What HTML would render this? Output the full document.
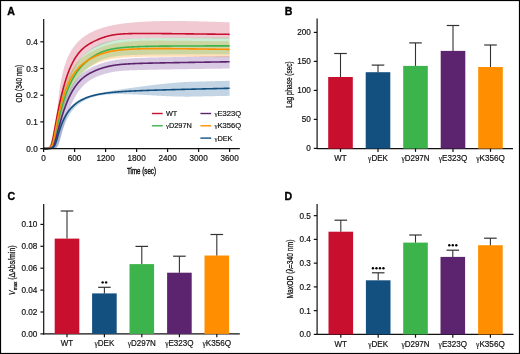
<!DOCTYPE html>
<html><head><meta charset="utf-8"><style>
html,body{margin:0;padding:0;background:#fff;}
svg{display:block;font-family:"Liberation Sans", sans-serif;will-change:transform;}
</style></head><body>
<svg width="520" height="354" viewBox="0 0 520 354">
<rect x="0" y="0" width="520" height="354" fill="#fff"/>
<polygon points="43.60,148.44 43.86,148.42 44.12,148.40 44.38,148.37 44.63,148.34 44.89,148.32 45.15,148.28 45.41,148.24 45.67,148.20 45.93,148.16 46.18,148.11 46.44,148.05 46.70,147.98 46.96,147.91 47.22,147.83 47.48,147.74 47.73,147.64 47.99,147.53 48.25,147.41 48.51,147.27 48.77,147.12 49.02,146.95 49.28,146.75 49.54,146.54 49.80,146.30 50.06,146.04 50.32,145.74 50.58,145.41 50.83,145.05 51.09,144.64 51.35,144.19 51.61,143.69 51.87,143.13 52.12,142.51 52.38,141.82 52.64,141.06 52.90,140.22 53.16,139.29 53.42,138.27 53.68,137.14 53.93,135.91 54.19,134.56 54.45,133.09 54.71,131.49 54.97,129.76 55.23,127.91 55.48,125.94 55.74,123.84 56.00,121.64 56.26,119.34 56.52,116.97 56.77,114.54 57.03,112.08 57.29,109.61 57.55,107.15 57.81,104.72 58.07,102.34 58.33,100.03 58.58,97.80 58.84,95.64 59.10,93.58 59.36,91.60 59.62,89.71 59.88,87.91 60.13,86.19 60.39,84.55 60.65,82.99 60.91,81.50 61.17,80.08 61.42,78.72 61.68,77.42 61.94,76.18 62.20,74.98 62.46,73.84 62.72,72.74 62.98,71.68 63.23,70.66 63.49,69.68 63.75,68.74 64.01,67.83 64.27,66.95 64.53,66.10 64.78,65.27 65.04,64.47 65.30,63.70 65.56,62.95 65.82,62.22 66.08,61.52 66.33,60.83 66.59,60.16 66.85,59.51 67.11,58.88 67.37,58.27 67.62,57.67 67.88,57.08 68.14,56.52 68.40,55.96 68.66,55.42 68.92,54.89 69.17,54.37 69.43,53.87 69.69,53.38 69.95,52.89 70.21,52.42 70.47,51.96 70.72,51.51 70.98,51.07 71.24,50.64 71.50,50.21 71.76,49.80 72.02,49.39 72.28,49.00 72.53,48.61 72.79,48.22 73.05,47.85 73.31,47.48 73.57,47.12 73.83,46.77 74.08,46.42 74.34,46.08 74.60,45.74 74.86,45.41 75.38,44.77 75.89,44.15 76.41,43.55 76.93,42.97 77.45,42.42 77.96,41.87 78.48,41.35 79.00,40.84 79.52,40.35 80.03,39.88 80.55,39.41 81.07,38.96 81.59,38.53 82.10,38.11 82.62,37.70 83.14,37.30 83.66,36.91 84.17,36.53 84.69,36.17 85.21,35.81 85.73,35.46 86.24,35.12 86.76,34.79 87.28,34.47 87.80,34.16 88.31,33.86 88.83,33.56 89.35,33.27 89.87,32.99 90.38,32.71 90.90,32.44 91.42,32.18 91.94,31.93 92.45,31.68 92.97,31.43 93.49,31.20 94.01,30.96 94.52,30.74 95.04,30.52 95.56,30.30 96.08,30.09 96.59,29.88 97.11,29.68 97.63,29.48 98.15,29.29 98.66,29.10 99.18,28.92 99.70,28.74 100.22,28.56 100.73,28.39 101.25,28.22 101.77,28.05 102.29,27.89 102.80,27.73 103.32,27.58 103.84,27.43 104.36,27.28 104.88,27.13 105.39,26.99 105.91,26.85 106.43,26.72 106.95,26.58 107.46,26.45 107.98,26.32 108.50,26.20 109.02,26.08 109.53,25.96 110.05,25.84 110.57,25.72 111.09,25.61 111.60,25.50 112.12,25.39 112.64,25.29 113.16,25.18 113.67,25.08 114.19,24.98 114.71,24.88 115.23,24.79 115.74,24.69 116.26,24.60 116.78,24.51 117.30,24.42 117.81,24.34 118.33,24.25 118.85,24.17 119.37,24.09 119.88,24.01 120.40,23.93 120.92,23.86 121.44,23.78 121.95,23.71 122.47,23.64 122.99,23.57 123.51,23.50 124.02,23.43 124.54,23.37 125.06,23.30 125.58,23.24 126.09,23.18 126.61,23.12 127.13,23.06 127.65,23.00 128.16,22.94 128.68,22.89 129.20,22.83 129.72,22.78 130.23,22.73 130.75,22.68 131.27,22.63 131.79,22.58 132.30,22.53 132.82,22.48 133.34,22.44 133.86,22.39 134.37,22.35 134.89,22.31 135.41,22.27 135.93,22.22 136.44,22.19 136.96,22.15 137.48,22.11 138.00,22.07 138.51,22.03 139.03,22.00 139.55,21.96 140.07,21.93 140.58,21.90 141.10,21.87 141.62,21.83 142.14,21.80 142.65,21.77 143.17,21.74 143.69,21.72 144.21,21.69 144.72,21.66 145.24,21.64 145.76,21.61 146.28,21.59 146.80,21.56 147.31,21.54 147.83,21.51 148.35,21.49 148.87,21.47 149.38,21.45 149.90,21.43 150.42,21.41 150.94,21.39 151.45,21.37 151.97,21.35 152.49,21.34 153.01,21.32 153.52,21.30 154.04,21.29 154.56,21.27 155.08,21.26 155.59,21.24 156.11,21.23 156.63,21.22 157.15,21.21 157.66,21.19 158.18,21.18 158.70,21.17 159.22,21.16 159.73,21.15 160.25,21.14 160.77,21.13 161.29,21.12 161.80,21.11 162.32,21.11 162.84,21.10 163.36,21.09 163.87,21.09 164.39,21.08 164.91,21.07 165.43,21.07 165.94,21.06 166.46,21.06 166.98,21.05 167.50,21.05 168.01,21.05 168.53,21.04 169.05,21.04 169.57,21.04 170.08,21.04 170.60,21.03 171.12,21.03 171.64,21.03 172.15,21.03 172.67,21.03 173.19,21.03 173.71,21.03 174.22,21.03 174.74,21.03 175.26,21.04 175.78,21.04 176.29,21.04 176.81,21.04 177.33,21.04 177.85,21.05 178.36,21.05 178.88,21.05 179.40,21.06 179.92,21.06 180.43,21.07 180.95,21.07 181.47,21.08 181.99,21.08 182.50,21.09 183.02,21.09 183.54,21.10 184.06,21.10 184.57,21.11 185.09,21.12 185.61,21.12 186.13,21.13 186.64,21.14 187.16,21.15 187.68,21.15 188.20,21.16 188.72,21.17 189.23,21.18 189.75,21.19 190.27,21.20 190.79,21.21 191.30,21.22 191.82,21.23 192.34,21.24 192.86,21.25 193.37,21.26 193.89,21.27 194.41,21.28 194.93,21.29 195.44,21.30 195.96,21.31 196.48,21.32 197.00,21.34 197.51,21.35 198.03,21.36 198.55,21.37 199.07,21.38 199.58,21.40 200.10,21.41 200.62,21.42 201.14,21.44 201.65,21.45 202.17,21.46 202.69,21.48 203.21,21.49 203.72,21.51 204.24,21.52 204.76,21.53 205.28,21.55 205.79,21.56 206.31,21.58 206.83,21.59 207.35,21.61 207.86,21.62 208.38,21.64 208.90,21.66 209.42,21.67 209.93,21.69 210.45,21.70 210.97,21.72 211.49,21.74 212.00,21.75 212.52,21.77 213.04,21.79 213.56,21.80 214.07,21.82 214.59,21.84 215.11,21.86 215.63,21.87 216.14,21.89 216.66,21.91 217.18,21.93 217.70,21.94 218.21,21.96 218.73,21.98 219.25,22.00 219.77,22.02 220.28,22.04 220.80,22.06 221.32,22.07 221.84,22.09 222.35,22.11 222.87,22.13 223.39,22.15 223.91,22.17 224.42,22.19 224.94,22.21 225.46,22.23 225.98,22.25 226.49,22.27 227.01,22.29 227.53,22.31 228.05,22.33 228.56,22.35 229.08,22.37 229.60,22.39 229.60,38.58 229.08,38.58 228.56,38.57 228.05,38.57 227.53,38.56 227.01,38.55 226.49,38.55 225.98,38.54 225.46,38.54 224.94,38.53 224.42,38.52 223.91,38.52 223.39,38.51 222.87,38.50 222.35,38.50 221.84,38.49 221.32,38.49 220.80,38.48 220.28,38.47 219.77,38.47 219.25,38.46 218.73,38.46 218.21,38.45 217.70,38.44 217.18,38.44 216.66,38.43 216.14,38.43 215.63,38.42 215.11,38.41 214.59,38.41 214.07,38.40 213.56,38.39 213.04,38.39 212.52,38.38 212.00,38.38 211.49,38.37 210.97,38.36 210.45,38.36 209.93,38.35 209.42,38.35 208.90,38.34 208.38,38.33 207.86,38.33 207.35,38.32 206.83,38.32 206.31,38.31 205.79,38.30 205.28,38.30 204.76,38.29 204.24,38.29 203.72,38.28 203.21,38.27 202.69,38.27 202.17,38.26 201.65,38.25 201.14,38.25 200.62,38.24 200.10,38.24 199.58,38.23 199.07,38.22 198.55,38.22 198.03,38.21 197.51,38.21 197.00,38.20 196.48,38.19 195.96,38.19 195.44,38.18 194.93,38.18 194.41,38.17 193.89,38.16 193.37,38.16 192.86,38.15 192.34,38.15 191.82,38.14 191.30,38.13 190.79,38.13 190.27,38.12 189.75,38.12 189.23,38.11 188.72,38.11 188.20,38.10 187.68,38.09 187.16,38.09 186.64,38.08 186.13,38.08 185.61,38.07 185.09,38.06 184.57,38.06 184.06,38.05 183.54,38.05 183.02,38.04 182.50,38.04 181.99,38.03 181.47,38.02 180.95,38.02 180.43,38.01 179.92,38.01 179.40,38.00 178.88,38.00 178.36,37.99 177.85,37.98 177.33,37.98 176.81,37.97 176.29,37.97 175.78,37.96 175.26,37.96 174.74,37.95 174.22,37.95 173.71,37.94 173.19,37.94 172.67,37.93 172.15,37.93 171.64,37.92 171.12,37.92 170.60,37.91 170.08,37.91 169.57,37.91 169.05,37.90 168.53,37.90 168.01,37.90 167.50,37.90 166.98,37.90 166.46,37.90 165.94,37.90 165.43,37.90 164.91,37.90 164.39,37.90 163.87,37.91 163.36,37.91 162.84,37.91 162.32,37.91 161.80,37.92 161.29,37.92 160.77,37.92 160.25,37.93 159.73,37.93 159.22,37.94 158.70,37.94 158.18,37.95 157.66,37.96 157.15,37.96 156.63,37.97 156.11,37.98 155.59,37.99 155.08,37.99 154.56,38.00 154.04,38.01 153.52,38.02 153.01,38.03 152.49,38.04 151.97,38.05 151.45,38.06 150.94,38.07 150.42,38.09 149.90,38.10 149.38,38.11 148.87,38.12 148.35,38.13 147.83,38.15 147.31,38.16 146.80,38.18 146.28,38.19 145.76,38.21 145.24,38.22 144.72,38.24 144.21,38.25 143.69,38.27 143.17,38.29 142.65,38.30 142.14,38.32 141.62,38.34 141.10,38.36 140.58,38.38 140.07,38.40 139.55,38.42 139.03,38.44 138.51,38.46 138.00,38.48 137.48,38.50 136.96,38.52 136.44,38.55 135.93,38.57 135.41,38.60 134.89,38.62 134.37,38.65 133.86,38.67 133.34,38.70 132.82,38.73 132.30,38.76 131.79,38.79 131.27,38.82 130.75,38.85 130.23,38.88 129.72,38.92 129.20,38.95 128.68,38.99 128.16,39.03 127.65,39.07 127.13,39.11 126.61,39.15 126.09,39.19 125.58,39.24 125.06,39.29 124.54,39.34 124.02,39.39 123.51,39.44 122.99,39.50 122.47,39.55 121.95,39.61 121.44,39.68 120.92,39.74 120.40,39.81 119.88,39.88 119.37,39.95 118.85,40.03 118.33,40.11 117.81,40.20 117.30,40.28 116.78,40.37 116.26,40.46 115.74,40.56 115.23,40.65 114.71,40.76 114.19,40.86 113.67,40.97 113.16,41.09 112.64,41.21 112.12,41.33 111.60,41.46 111.09,41.59 110.57,41.73 110.05,41.87 109.53,42.01 109.02,42.16 108.50,42.31 107.98,42.47 107.46,42.63 106.95,42.80 106.43,42.97 105.91,43.14 105.39,43.32 104.88,43.50 104.36,43.69 103.84,43.88 103.32,44.07 102.80,44.27 102.29,44.47 101.77,44.67 101.25,44.88 100.73,45.10 100.22,45.31 99.70,45.53 99.18,45.76 98.66,45.99 98.15,46.22 97.63,46.45 97.11,46.69 96.59,46.94 96.08,47.18 95.56,47.44 95.04,47.69 94.52,47.96 94.01,48.23 93.49,48.50 92.97,48.78 92.45,49.07 91.94,49.37 91.42,49.67 90.90,49.98 90.38,50.30 89.87,50.63 89.35,50.98 88.83,51.33 88.31,51.69 87.80,52.06 87.28,52.45 86.76,52.85 86.24,53.27 85.73,53.70 85.21,54.14 84.69,54.61 84.17,55.09 83.66,55.59 83.14,56.11 82.62,56.65 82.10,57.21 81.59,57.79 81.07,58.40 80.55,59.03 80.03,59.69 79.52,60.37 79.00,61.08 78.48,61.82 77.96,62.59 77.45,63.39 76.93,64.22 76.41,65.09 75.89,65.99 75.38,66.92 74.86,67.89 74.60,68.39 74.34,68.90 74.08,69.41 73.83,69.94 73.57,70.48 73.31,71.02 73.05,71.58 72.79,72.15 72.53,72.73 72.28,73.32 72.02,73.92 71.76,74.53 71.50,75.15 71.24,75.78 70.98,76.43 70.72,77.09 70.47,77.75 70.21,78.43 69.95,79.13 69.69,79.83 69.43,80.55 69.17,81.28 68.92,82.02 68.66,82.78 68.40,83.55 68.14,84.33 67.88,85.13 67.62,85.94 67.37,86.76 67.11,87.60 66.85,88.46 66.59,89.32 66.33,90.21 66.08,91.10 65.82,92.01 65.56,92.94 65.30,93.88 65.04,94.84 64.78,95.82 64.53,96.81 64.27,97.81 64.01,98.84 63.75,99.87 63.49,100.93 63.23,102.00 62.98,103.09 62.72,104.20 62.46,105.32 62.20,106.46 61.94,107.62 61.68,108.80 61.42,109.99 61.17,111.20 60.91,112.43 60.65,113.67 60.39,114.94 60.13,116.22 59.88,117.51 59.62,118.83 59.36,120.15 59.10,121.49 58.84,122.85 58.58,124.22 58.33,125.59 58.07,126.98 57.81,128.37 57.55,129.76 57.29,131.15 57.03,132.53 56.77,133.90 56.52,135.24 56.26,136.56 56.00,137.84 55.74,139.07 55.48,140.24 55.23,141.35 54.97,142.37 54.71,143.32 54.45,144.17 54.19,144.93 53.93,145.59 53.68,146.16 53.42,146.65 53.16,147.05 52.90,147.38 52.64,147.65 52.38,147.87 52.12,148.03 51.87,148.17 51.61,148.27 51.35,148.35 51.09,148.41 50.83,148.45 50.58,148.49 50.32,148.51 50.06,148.53 49.80,148.55 49.54,148.56 49.28,148.57 49.02,148.58 48.77,148.58 48.51,148.59 48.25,148.59 47.99,148.59 47.73,148.59 47.48,148.60 47.22,148.60 46.96,148.60 46.70,148.60 46.44,148.60 46.18,148.60 45.93,148.60 45.67,148.60 45.41,148.60 45.15,148.60 44.89,148.60 44.63,148.60 44.38,148.60 44.12,148.60 43.86,148.60 43.60,148.60" fill="#C8365A" fill-opacity="0.27"/>
<polygon points="43.60,148.57 43.86,148.57 44.12,148.56 44.38,148.55 44.63,148.54 44.89,148.52 45.15,148.51 45.41,148.49 45.67,148.46 45.93,148.43 46.18,148.39 46.44,148.35 46.70,148.29 46.96,148.22 47.22,148.14 47.48,148.04 47.73,147.92 47.99,147.78 48.25,147.60 48.51,147.39 48.77,147.14 49.02,146.83 49.28,146.48 49.54,146.06 49.80,145.56 50.06,144.99 50.32,144.33 50.58,143.57 50.83,142.73 51.09,141.78 51.35,140.75 51.61,139.62 51.87,138.41 52.12,137.13 52.38,135.79 52.64,134.41 52.90,132.98 53.16,131.53 53.42,130.06 53.68,128.58 53.93,127.10 54.19,125.63 54.45,124.17 54.71,122.73 54.97,121.31 55.23,119.91 55.48,118.53 55.74,117.17 56.00,115.85 56.26,114.54 56.52,113.27 56.77,112.02 57.03,110.80 57.29,109.60 57.55,108.43 57.81,107.28 58.07,106.16 58.33,105.06 58.58,103.98 58.84,102.93 59.10,101.89 59.36,100.88 59.62,99.89 59.88,98.92 60.13,97.97 60.39,97.04 60.65,96.13 60.91,95.24 61.17,94.36 61.42,93.50 61.68,92.66 61.94,91.83 62.20,91.02 62.46,90.23 62.72,89.45 62.98,88.69 63.23,87.94 63.49,87.20 63.75,86.48 64.01,85.77 64.27,85.08 64.53,84.40 64.78,83.73 65.04,83.07 65.30,82.43 65.56,81.80 65.82,81.18 66.08,80.57 66.33,79.97 66.59,79.38 66.85,78.81 67.11,78.24 67.37,77.68 67.62,77.14 67.88,76.60 68.14,76.08 68.40,75.56 68.66,75.05 68.92,74.55 69.17,74.06 69.43,73.58 69.69,73.11 69.95,72.65 70.21,72.19 70.47,71.75 70.72,71.31 70.98,70.87 71.24,70.45 71.50,70.03 71.76,69.62 72.02,69.22 72.28,68.83 72.53,68.44 72.79,68.06 73.05,67.69 73.31,67.32 73.57,66.96 73.83,66.60 74.08,66.25 74.34,65.91 74.60,65.57 74.86,65.24 75.38,64.60 75.89,63.97 76.41,63.37 76.93,62.79 77.45,62.22 77.96,61.68 78.48,61.15 79.00,60.64 79.52,60.15 80.03,59.67 80.55,59.21 81.07,58.76 81.59,58.32 82.10,57.90 82.62,57.49 83.14,57.08 83.66,56.69 84.17,56.31 84.69,55.94 85.21,55.57 85.73,55.22 86.24,54.87 86.76,54.53 87.28,54.20 87.80,53.87 88.31,53.55 88.83,53.24 89.35,52.93 89.87,52.63 90.38,52.33 90.90,52.04 91.42,51.76 91.94,51.48 92.45,51.20 92.97,50.93 93.49,50.66 94.01,50.40 94.52,50.14 95.04,49.89 95.56,49.64 96.08,49.40 96.59,49.16 97.11,48.92 97.63,48.69 98.15,48.47 98.66,48.24 99.18,48.03 99.70,47.81 100.22,47.60 100.73,47.40 101.25,47.20 101.77,47.01 102.29,46.82 102.80,46.63 103.32,46.45 103.84,46.27 104.36,46.10 104.88,45.93 105.39,45.77 105.91,45.61 106.43,45.45 106.95,45.30 107.46,45.15 107.98,45.01 108.50,44.87 109.02,44.73 109.53,44.60 110.05,44.47 110.57,44.35 111.09,44.23 111.60,44.11 112.12,44.00 112.64,43.88 113.16,43.78 113.67,43.67 114.19,43.57 114.71,43.47 115.23,43.37 115.74,43.28 116.26,43.18 116.78,43.09 117.30,43.01 117.81,42.92 118.33,42.84 118.85,42.76 119.37,42.68 119.88,42.60 120.40,42.53 120.92,42.46 121.44,42.39 121.95,42.32 122.47,42.25 122.99,42.18 123.51,42.12 124.02,42.06 124.54,42.00 125.06,41.94 125.58,41.88 126.09,41.83 126.61,41.77 127.13,41.72 127.65,41.67 128.16,41.62 128.68,41.57 129.20,41.53 129.72,41.48 130.23,41.44 130.75,41.40 131.27,41.36 131.79,41.32 132.30,41.28 132.82,41.24 133.34,41.21 133.86,41.17 134.37,41.14 134.89,41.11 135.41,41.08 135.93,41.05 136.44,41.02 136.96,40.99 137.48,40.96 138.00,40.94 138.51,40.91 139.03,40.89 139.55,40.87 140.07,40.85 140.58,40.83 141.10,40.81 141.62,40.79 142.14,40.77 142.65,40.76 143.17,40.75 143.69,40.73 144.21,40.72 144.72,40.71 145.24,40.70 145.76,40.69 146.28,40.68 146.80,40.68 147.31,40.67 147.83,40.66 148.35,40.66 148.87,40.65 149.38,40.65 149.90,40.65 150.42,40.64 150.94,40.64 151.45,40.64 151.97,40.63 152.49,40.63 153.01,40.63 153.52,40.63 154.04,40.62 154.56,40.62 155.08,40.62 155.59,40.62 156.11,40.62 156.63,40.62 157.15,40.62 157.66,40.62 158.18,40.62 158.70,40.62 159.22,40.62 159.73,40.62 160.25,40.62 160.77,40.62 161.29,40.62 161.80,40.62 162.32,40.62 162.84,40.62 163.36,40.63 163.87,40.63 164.39,40.63 164.91,40.63 165.43,40.63 165.94,40.64 166.46,40.64 166.98,40.64 167.50,40.64 168.01,40.65 168.53,40.65 169.05,40.65 169.57,40.66 170.08,40.66 170.60,40.66 171.12,40.67 171.64,40.67 172.15,40.67 172.67,40.68 173.19,40.68 173.71,40.69 174.22,40.69 174.74,40.70 175.26,40.70 175.78,40.70 176.29,40.71 176.81,40.71 177.33,40.72 177.85,40.72 178.36,40.73 178.88,40.73 179.40,40.74 179.92,40.74 180.43,40.75 180.95,40.75 181.47,40.76 181.99,40.76 182.50,40.77 183.02,40.78 183.54,40.78 184.06,40.79 184.57,40.79 185.09,40.80 185.61,40.80 186.13,40.81 186.64,40.82 187.16,40.82 187.68,40.83 188.20,40.83 188.72,40.84 189.23,40.85 189.75,40.85 190.27,40.86 190.79,40.86 191.30,40.87 191.82,40.88 192.34,40.88 192.86,40.89 193.37,40.90 193.89,40.90 194.41,40.91 194.93,40.92 195.44,40.92 195.96,40.93 196.48,40.94 197.00,40.94 197.51,40.95 198.03,40.96 198.55,40.96 199.07,40.97 199.58,40.98 200.10,40.98 200.62,40.99 201.14,41.00 201.65,41.00 202.17,41.01 202.69,41.02 203.21,41.02 203.72,41.03 204.24,41.04 204.76,41.05 205.28,41.05 205.79,41.06 206.31,41.07 206.83,41.07 207.35,41.08 207.86,41.09 208.38,41.10 208.90,41.10 209.42,41.11 209.93,41.12 210.45,41.13 210.97,41.13 211.49,41.14 212.00,41.15 212.52,41.15 213.04,41.16 213.56,41.17 214.07,41.18 214.59,41.18 215.11,41.19 215.63,41.20 216.14,41.21 216.66,41.21 217.18,41.22 217.70,41.23 218.21,41.24 218.73,41.24 219.25,41.25 219.77,41.26 220.28,41.27 220.80,41.27 221.32,41.28 221.84,41.29 222.35,41.30 222.87,41.30 223.39,41.31 223.91,41.32 224.42,41.33 224.94,41.33 225.46,41.34 225.98,41.35 226.49,41.36 227.01,41.36 227.53,41.37 228.05,41.38 228.56,41.39 229.08,41.40 229.60,41.40 229.60,57.36 229.08,57.35 228.56,57.34 228.05,57.34 227.53,57.33 227.01,57.32 226.49,57.31 225.98,57.31 225.46,57.30 224.94,57.29 224.42,57.28 223.91,57.27 223.39,57.27 222.87,57.26 222.35,57.25 221.84,57.24 221.32,57.24 220.80,57.23 220.28,57.22 219.77,57.22 219.25,57.21 218.73,57.20 218.21,57.19 217.70,57.19 217.18,57.18 216.66,57.17 216.14,57.16 215.63,57.16 215.11,57.15 214.59,57.14 214.07,57.13 213.56,57.13 213.04,57.12 212.52,57.11 212.00,57.11 211.49,57.10 210.97,57.09 210.45,57.08 209.93,57.08 209.42,57.07 208.90,57.06 208.38,57.06 207.86,57.05 207.35,57.04 206.83,57.03 206.31,57.03 205.79,57.02 205.28,57.01 204.76,57.01 204.24,57.00 203.72,56.99 203.21,56.99 202.69,56.98 202.17,56.97 201.65,56.97 201.14,56.96 200.62,56.95 200.10,56.95 199.58,56.94 199.07,56.93 198.55,56.93 198.03,56.92 197.51,56.91 197.00,56.91 196.48,56.90 195.96,56.89 195.44,56.89 194.93,56.88 194.41,56.88 193.89,56.87 193.37,56.86 192.86,56.86 192.34,56.85 191.82,56.84 191.30,56.84 190.79,56.83 190.27,56.83 189.75,56.82 189.23,56.82 188.72,56.81 188.20,56.80 187.68,56.80 187.16,56.79 186.64,56.79 186.13,56.78 185.61,56.78 185.09,56.77 184.57,56.77 184.06,56.76 183.54,56.76 183.02,56.75 182.50,56.75 181.99,56.74 181.47,56.74 180.95,56.73 180.43,56.73 179.92,56.72 179.40,56.72 178.88,56.71 178.36,56.71 177.85,56.71 177.33,56.70 176.81,56.70 176.29,56.69 175.78,56.69 175.26,56.69 174.74,56.68 174.22,56.68 173.71,56.68 173.19,56.67 172.67,56.67 172.15,56.67 171.64,56.66 171.12,56.66 170.60,56.66 170.08,56.66 169.57,56.65 169.05,56.65 168.53,56.65 168.01,56.65 167.50,56.64 166.98,56.64 166.46,56.64 165.94,56.64 165.43,56.64 164.91,56.64 164.39,56.64 163.87,56.64 163.36,56.64 162.84,56.64 162.32,56.64 161.80,56.64 161.29,56.64 160.77,56.64 160.25,56.64 159.73,56.64 159.22,56.64 158.70,56.64 158.18,56.64 157.66,56.65 157.15,56.65 156.63,56.65 156.11,56.65 155.59,56.66 155.08,56.66 154.56,56.66 154.04,56.67 153.52,56.67 153.01,56.68 152.49,56.68 151.97,56.69 151.45,56.69 150.94,56.70 150.42,56.70 149.90,56.71 149.38,56.72 148.87,56.73 148.35,56.73 147.83,56.74 147.31,56.75 146.80,56.76 146.28,56.77 145.76,56.78 145.24,56.79 144.72,56.80 144.21,56.81 143.69,56.82 143.17,56.83 142.65,56.84 142.14,56.85 141.62,56.86 141.10,56.87 140.58,56.88 140.07,56.89 139.55,56.90 139.03,56.91 138.51,56.93 138.00,56.94 137.48,56.95 136.96,56.97 136.44,56.98 135.93,57.00 135.41,57.01 134.89,57.03 134.37,57.04 133.86,57.06 133.34,57.08 132.82,57.10 132.30,57.11 131.79,57.13 131.27,57.16 130.75,57.18 130.23,57.20 129.72,57.22 129.20,57.25 128.68,57.27 128.16,57.30 127.65,57.33 127.13,57.35 126.61,57.38 126.09,57.41 125.58,57.44 125.06,57.47 124.54,57.50 124.02,57.53 123.51,57.57 122.99,57.61 122.47,57.64 121.95,57.68 121.44,57.73 120.92,57.77 120.40,57.82 119.88,57.86 119.37,57.91 118.85,57.97 118.33,58.02 117.81,58.08 117.30,58.14 116.78,58.20 116.26,58.26 115.74,58.33 115.23,58.40 114.71,58.47 114.19,58.55 113.67,58.63 113.16,58.71 112.64,58.80 112.12,58.89 111.60,58.99 111.09,59.08 110.57,59.19 110.05,59.29 109.53,59.40 109.02,59.51 108.50,59.63 107.98,59.75 107.46,59.88 106.95,60.01 106.43,60.14 105.91,60.28 105.39,60.42 104.88,60.57 104.36,60.72 103.84,60.88 103.32,61.04 102.80,61.20 102.29,61.37 101.77,61.55 101.25,61.72 100.73,61.91 100.22,62.09 99.70,62.28 99.18,62.48 98.66,62.68 98.15,62.89 97.63,63.10 97.11,63.31 96.59,63.53 96.08,63.75 95.56,63.98 95.04,64.21 94.52,64.45 94.01,64.70 93.49,64.95 92.97,65.20 92.45,65.47 91.94,65.73 91.42,66.01 90.90,66.29 90.38,66.58 89.87,66.87 89.35,67.18 88.83,67.49 88.31,67.81 87.80,68.14 87.28,68.49 86.76,68.84 86.24,69.20 85.73,69.57 85.21,69.96 84.69,70.35 84.17,70.76 83.66,71.19 83.14,71.63 82.62,72.08 82.10,72.55 81.59,73.04 81.07,73.54 80.55,74.06 80.03,74.60 79.52,75.16 79.00,75.73 78.48,76.33 77.96,76.95 77.45,77.59 76.93,78.26 76.41,78.95 75.89,79.66 75.38,80.41 74.86,81.17 74.60,81.57 74.34,81.97 74.08,82.38 73.83,82.79 73.57,83.21 73.31,83.65 73.05,84.08 72.79,84.53 72.53,84.99 72.28,85.45 72.02,85.92 71.76,86.40 71.50,86.89 71.24,87.39 70.98,87.90 70.72,88.41 70.47,88.94 70.21,89.48 69.95,90.02 69.69,90.58 69.43,91.14 69.17,91.72 68.92,92.31 68.66,92.91 68.40,93.52 68.14,94.14 67.88,94.78 67.62,95.43 67.37,96.09 67.11,96.76 66.85,97.44 66.59,98.14 66.33,98.85 66.08,99.58 65.82,100.32 65.56,101.08 65.30,101.85 65.04,102.64 64.78,103.44 64.53,104.26 64.27,105.09 64.01,105.95 63.75,106.82 63.49,107.71 63.23,108.61 62.98,109.54 62.72,110.49 62.46,111.46 62.20,112.44 61.94,113.46 61.68,114.49 61.42,115.54 61.17,116.62 60.91,117.72 60.65,118.85 60.39,119.99 60.13,121.17 59.88,122.36 59.62,123.58 59.36,124.83 59.10,126.09 58.84,127.37 58.58,128.67 58.33,129.99 58.07,131.31 57.81,132.63 57.55,133.95 57.29,135.26 57.03,136.54 56.77,137.80 56.52,139.00 56.26,140.15 56.00,141.23 55.74,142.23 55.48,143.15 55.23,143.98 54.97,144.71 54.71,145.36 54.45,145.91 54.19,146.39 53.93,146.79 53.68,147.12 53.42,147.40 53.16,147.62 52.90,147.81 52.64,147.96 52.38,148.08 52.12,148.18 51.87,148.26 51.61,148.32 51.35,148.37 51.09,148.42 50.83,148.45 50.58,148.48 50.32,148.50 50.06,148.52 49.80,148.53 49.54,148.55 49.28,148.56 49.02,148.56 48.77,148.57 48.51,148.58 48.25,148.58 47.99,148.58 47.73,148.59 47.48,148.59 47.22,148.59 46.96,148.59 46.70,148.59 46.44,148.60 46.18,148.60 45.93,148.60 45.67,148.60 45.41,148.60 45.15,148.60 44.89,148.60 44.63,148.60 44.38,148.60 44.12,148.59 43.86,148.59 43.60,148.59" fill="#FF9A20" fill-opacity="0.31"/>
<polygon points="43.60,148.59 43.86,148.58 44.12,148.58 44.38,148.57 44.63,148.57 44.89,148.56 45.15,148.54 45.41,148.53 45.67,148.51 45.93,148.49 46.18,148.45 46.44,148.42 46.70,148.37 46.96,148.31 47.22,148.23 47.48,148.13 47.73,148.01 47.99,147.87 48.25,147.68 48.51,147.46 48.77,147.19 49.02,146.87 49.28,146.49 49.54,146.04 49.80,145.52 50.06,144.92 50.32,144.24 50.58,143.49 50.83,142.66 51.09,141.76 51.35,140.80 51.61,139.78 51.87,138.70 52.12,137.59 52.38,136.44 52.64,135.26 52.90,134.05 53.16,132.83 53.42,131.60 53.68,130.36 53.93,129.12 54.19,127.88 54.45,126.64 54.71,125.40 54.97,124.17 55.23,122.95 55.48,121.74 55.74,120.55 56.00,119.36 56.26,118.19 56.52,117.03 56.77,115.88 57.03,114.75 57.29,113.63 57.55,112.52 57.81,111.43 58.07,110.36 58.33,109.30 58.58,108.25 58.84,107.22 59.10,106.20 59.36,105.19 59.62,104.20 59.88,103.22 60.13,102.26 60.39,101.31 60.65,100.38 60.91,99.45 61.17,98.54 61.42,97.65 61.68,96.76 61.94,95.89 62.20,95.04 62.46,94.19 62.72,93.36 62.98,92.54 63.23,91.73 63.49,90.93 63.75,90.15 64.01,89.38 64.27,88.62 64.53,87.87 64.78,87.13 65.04,86.40 65.30,85.69 65.56,84.98 65.82,84.29 66.08,83.61 66.33,82.94 66.59,82.27 66.85,81.62 67.11,80.98 67.37,80.35 67.62,79.73 67.88,79.11 68.14,78.51 68.40,77.92 68.66,77.34 68.92,76.76 69.17,76.20 69.43,75.64 69.69,75.09 69.95,74.55 70.21,74.02 70.47,73.50 70.72,72.99 70.98,72.48 71.24,71.98 71.50,71.49 71.76,71.01 72.02,70.54 72.28,70.07 72.53,69.61 72.79,69.16 73.05,68.71 73.31,68.27 73.57,67.84 73.83,67.42 74.08,67.00 74.34,66.59 74.60,66.18 74.86,65.78 75.38,65.00 75.89,64.24 76.41,63.51 76.93,62.80 77.45,62.11 77.96,61.43 78.48,60.78 79.00,60.15 79.52,59.53 80.03,58.93 80.55,58.35 81.07,57.78 81.59,57.22 82.10,56.68 82.62,56.16 83.14,55.64 83.66,55.14 84.17,54.65 84.69,54.17 85.21,53.71 85.73,53.25 86.24,52.80 86.76,52.37 87.28,51.94 87.80,51.52 88.31,51.12 88.83,50.72 89.35,50.33 89.87,49.95 90.38,49.57 90.90,49.21 91.42,48.85 91.94,48.51 92.45,48.17 92.97,47.84 93.49,47.51 94.01,47.20 94.52,46.89 95.04,46.59 95.56,46.30 96.08,46.02 96.59,45.75 97.11,45.48 97.63,45.22 98.15,44.97 98.66,44.72 99.18,44.49 99.70,44.26 100.22,44.03 100.73,43.82 101.25,43.61 101.77,43.41 102.29,43.22 102.80,43.03 103.32,42.85 103.84,42.67 104.36,42.50 104.88,42.34 105.39,42.19 105.91,42.03 106.43,41.89 106.95,41.75 107.46,41.61 107.98,41.48 108.50,41.36 109.02,41.24 109.53,41.12 110.05,41.01 110.57,40.90 111.09,40.80 111.60,40.70 112.12,40.60 112.64,40.51 113.16,40.42 113.67,40.33 114.19,40.25 114.71,40.17 115.23,40.09 115.74,40.02 116.26,39.94 116.78,39.87 117.30,39.81 117.81,39.74 118.33,39.68 118.85,39.62 119.37,39.56 119.88,39.50 120.40,39.45 120.92,39.40 121.44,39.34 121.95,39.30 122.47,39.25 122.99,39.20 123.51,39.16 124.02,39.11 124.54,39.07 125.06,39.03 125.58,38.99 126.09,38.95 126.61,38.92 127.13,38.88 127.65,38.84 128.16,38.81 128.68,38.78 129.20,38.75 129.72,38.72 130.23,38.69 130.75,38.66 131.27,38.63 131.79,38.60 132.30,38.58 132.82,38.55 133.34,38.53 133.86,38.50 134.37,38.48 134.89,38.46 135.41,38.44 135.93,38.42 136.44,38.39 136.96,38.37 137.48,38.36 138.00,38.34 138.51,38.32 139.03,38.30 139.55,38.28 140.07,38.27 140.58,38.25 141.10,38.24 141.62,38.22 142.14,38.21 142.65,38.19 143.17,38.18 143.69,38.16 144.21,38.15 144.72,38.14 145.24,38.13 145.76,38.12 146.28,38.10 146.80,38.09 147.31,38.08 147.83,38.07 148.35,38.06 148.87,38.05 149.38,38.04 149.90,38.03 150.42,38.02 150.94,38.01 151.45,38.00 151.97,38.00 152.49,37.99 153.01,37.98 153.52,37.97 154.04,37.96 154.56,37.96 155.08,37.95 155.59,37.94 156.11,37.94 156.63,37.93 157.15,37.92 157.66,37.92 158.18,37.91 158.70,37.90 159.22,37.90 159.73,37.89 160.25,37.89 160.77,37.88 161.29,37.88 161.80,37.87 162.32,37.87 162.84,37.86 163.36,37.86 163.87,37.85 164.39,37.85 164.91,37.84 165.43,37.84 165.94,37.83 166.46,37.83 166.98,37.82 167.50,37.82 168.01,37.82 168.53,37.81 169.05,37.81 169.57,37.80 170.08,37.80 170.60,37.80 171.12,37.79 171.64,37.79 172.15,37.79 172.67,37.78 173.19,37.78 173.71,37.78 174.22,37.77 174.74,37.77 175.26,37.77 175.78,37.77 176.29,37.76 176.81,37.76 177.33,37.76 177.85,37.75 178.36,37.75 178.88,37.75 179.40,37.75 179.92,37.74 180.43,37.74 180.95,37.74 181.47,37.74 181.99,37.73 182.50,37.73 183.02,37.73 183.54,37.73 184.06,37.72 184.57,37.72 185.09,37.72 185.61,37.72 186.13,37.71 186.64,37.71 187.16,37.71 187.68,37.71 188.20,37.71 188.72,37.70 189.23,37.70 189.75,37.70 190.27,37.70 190.79,37.70 191.30,37.69 191.82,37.69 192.34,37.69 192.86,37.69 193.37,37.69 193.89,37.68 194.41,37.68 194.93,37.68 195.44,37.68 195.96,37.68 196.48,37.67 197.00,37.67 197.51,37.67 198.03,37.67 198.55,37.67 199.07,37.67 199.58,37.66 200.10,37.66 200.62,37.66 201.14,37.66 201.65,37.66 202.17,37.66 202.69,37.65 203.21,37.65 203.72,37.65 204.24,37.65 204.76,37.65 205.28,37.65 205.79,37.64 206.31,37.64 206.83,37.64 207.35,37.64 207.86,37.64 208.38,37.64 208.90,37.63 209.42,37.63 209.93,37.63 210.45,37.63 210.97,37.63 211.49,37.63 212.00,37.62 212.52,37.62 213.04,37.62 213.56,37.62 214.07,37.62 214.59,37.62 215.11,37.61 215.63,37.61 216.14,37.61 216.66,37.61 217.18,37.61 217.70,37.61 218.21,37.61 218.73,37.60 219.25,37.60 219.77,37.60 220.28,37.60 220.80,37.60 221.32,37.60 221.84,37.59 222.35,37.59 222.87,37.59 223.39,37.59 223.91,37.59 224.42,37.59 224.94,37.59 225.46,37.58 225.98,37.58 226.49,37.58 227.01,37.58 227.53,37.58 228.05,37.58 228.56,37.58 229.08,37.57 229.60,37.57 229.60,54.14 229.08,54.14 228.56,54.14 228.05,54.14 227.53,54.14 227.01,54.15 226.49,54.15 225.98,54.15 225.46,54.15 224.94,54.15 224.42,54.15 223.91,54.15 223.39,54.15 222.87,54.16 222.35,54.16 221.84,54.16 221.32,54.16 220.80,54.16 220.28,54.16 219.77,54.16 219.25,54.16 218.73,54.17 218.21,54.17 217.70,54.17 217.18,54.17 216.66,54.17 216.14,54.17 215.63,54.17 215.11,54.18 214.59,54.18 214.07,54.18 213.56,54.18 213.04,54.18 212.52,54.18 212.00,54.18 211.49,54.19 210.97,54.19 210.45,54.19 209.93,54.19 209.42,54.19 208.90,54.19 208.38,54.19 207.86,54.20 207.35,54.20 206.83,54.20 206.31,54.20 205.79,54.20 205.28,54.20 204.76,54.20 204.24,54.21 203.72,54.21 203.21,54.21 202.69,54.21 202.17,54.21 201.65,54.21 201.14,54.21 200.62,54.22 200.10,54.22 199.58,54.22 199.07,54.22 198.55,54.22 198.03,54.22 197.51,54.23 197.00,54.23 196.48,54.23 195.96,54.23 195.44,54.23 194.93,54.23 194.41,54.24 193.89,54.24 193.37,54.24 192.86,54.24 192.34,54.24 191.82,54.24 191.30,54.25 190.79,54.25 190.27,54.25 189.75,54.25 189.23,54.25 188.72,54.26 188.20,54.26 187.68,54.26 187.16,54.26 186.64,54.26 186.13,54.27 185.61,54.27 185.09,54.27 184.57,54.27 184.06,54.28 183.54,54.28 183.02,54.28 182.50,54.28 181.99,54.28 181.47,54.29 180.95,54.29 180.43,54.29 179.92,54.29 179.40,54.30 178.88,54.30 178.36,54.30 177.85,54.30 177.33,54.31 176.81,54.31 176.29,54.31 175.78,54.32 175.26,54.32 174.74,54.32 174.22,54.33 173.71,54.33 173.19,54.33 172.67,54.33 172.15,54.34 171.64,54.34 171.12,54.35 170.60,54.35 170.08,54.35 169.57,54.36 169.05,54.36 168.53,54.36 168.01,54.37 167.50,54.37 166.98,54.38 166.46,54.38 165.94,54.39 165.43,54.39 164.91,54.39 164.39,54.40 163.87,54.40 163.36,54.41 162.84,54.41 162.32,54.42 161.80,54.42 161.29,54.43 160.77,54.44 160.25,54.44 159.73,54.45 159.22,54.45 158.70,54.46 158.18,54.47 157.66,54.47 157.15,54.48 156.63,54.49 156.11,54.49 155.59,54.50 155.08,54.51 154.56,54.52 154.04,54.53 153.52,54.53 153.01,54.54 152.49,54.55 151.97,54.56 151.45,54.57 150.94,54.58 150.42,54.59 149.90,54.60 149.38,54.61 148.87,54.62 148.35,54.63 147.83,54.64 147.31,54.65 146.80,54.67 146.28,54.68 145.76,54.69 145.24,54.70 144.72,54.71 144.21,54.73 143.69,54.74 143.17,54.75 142.65,54.76 142.14,54.77 141.62,54.79 141.10,54.80 140.58,54.81 140.07,54.82 139.55,54.84 139.03,54.85 138.51,54.86 138.00,54.88 137.48,54.89 136.96,54.90 136.44,54.92 135.93,54.93 135.41,54.95 134.89,54.96 134.37,54.98 133.86,55.00 133.34,55.01 132.82,55.03 132.30,55.05 131.79,55.07 131.27,55.09 130.75,55.11 130.23,55.13 129.72,55.15 129.20,55.17 128.68,55.20 128.16,55.22 127.65,55.25 127.13,55.28 126.61,55.30 126.09,55.33 125.58,55.36 125.06,55.40 124.54,55.43 124.02,55.46 123.51,55.50 122.99,55.54 122.47,55.58 121.95,55.62 121.44,55.66 120.92,55.71 120.40,55.75 119.88,55.80 119.37,55.86 118.85,55.91 118.33,55.97 117.81,56.02 117.30,56.09 116.78,56.15 116.26,56.22 115.74,56.29 115.23,56.36 114.71,56.44 114.19,56.52 113.67,56.61 113.16,56.69 112.64,56.79 112.12,56.88 111.60,56.98 111.09,57.09 110.57,57.20 110.05,57.31 109.53,57.43 109.02,57.56 108.50,57.69 107.98,57.82 107.46,57.96 106.95,58.11 106.43,58.26 105.91,58.42 105.39,58.58 104.88,58.75 104.36,58.93 103.84,59.11 103.32,59.30 102.80,59.50 102.29,59.70 101.77,59.91 101.25,60.13 100.73,60.36 100.22,60.59 99.70,60.82 99.18,61.07 98.66,61.32 98.15,61.58 97.63,61.85 97.11,62.12 96.59,62.40 96.08,62.69 95.56,62.99 95.04,63.29 94.52,63.60 94.01,63.92 93.49,64.25 92.97,64.58 92.45,64.92 91.94,65.27 91.42,65.63 90.90,66.00 90.38,66.38 89.87,66.76 89.35,67.16 88.83,67.56 88.31,67.98 87.80,68.40 87.28,68.84 86.76,69.29 86.24,69.75 85.73,70.22 85.21,70.71 84.69,71.21 84.17,71.72 83.66,72.25 83.14,72.79 82.62,73.35 82.10,73.93 81.59,74.52 81.07,75.13 80.55,75.76 80.03,76.42 79.52,77.09 79.00,77.78 78.48,78.50 77.96,79.24 77.45,80.00 76.93,80.78 76.41,81.60 75.89,82.43 75.38,83.30 74.86,84.19 74.60,84.65 74.34,85.12 74.08,85.59 73.83,86.07 73.57,86.55 73.31,87.05 73.05,87.55 72.79,88.06 72.53,88.58 72.28,89.11 72.02,89.64 71.76,90.19 71.50,90.74 71.24,91.30 70.98,91.87 70.72,92.45 70.47,93.04 70.21,93.64 69.95,94.25 69.69,94.86 69.43,95.49 69.17,96.12 68.92,96.77 68.66,97.42 68.40,98.09 68.14,98.77 67.88,99.45 67.62,100.15 67.37,100.85 67.11,101.57 66.85,102.30 66.59,103.04 66.33,103.79 66.08,104.55 65.82,105.32 65.56,106.11 65.30,106.90 65.04,107.71 64.78,108.53 64.53,109.36 64.27,110.20 64.01,111.06 63.75,111.92 63.49,112.80 63.23,113.69 62.98,114.59 62.72,115.51 62.46,116.44 62.20,117.38 61.94,118.33 61.68,119.30 61.42,120.28 61.17,121.27 60.91,122.27 60.65,123.28 60.39,124.31 60.13,125.35 59.88,126.40 59.62,127.45 59.36,128.52 59.10,129.60 58.84,130.68 58.58,131.77 58.33,132.86 58.07,133.95 57.81,135.03 57.55,136.11 57.29,137.18 57.03,138.23 56.77,139.26 56.52,140.26 56.26,141.22 56.00,142.13 55.74,142.99 55.48,143.79 55.23,144.52 54.97,145.18 54.71,145.77 54.45,146.28 54.19,146.72 53.93,147.10 53.68,147.41 53.42,147.66 53.16,147.87 52.90,148.03 52.64,148.16 52.38,148.26 52.12,148.34 51.87,148.40 51.61,148.45 51.35,148.48 51.09,148.51 50.83,148.53 50.58,148.55 50.32,148.56 50.06,148.57 49.80,148.58 49.54,148.58 49.28,148.59 49.02,148.59 48.77,148.59 48.51,148.59 48.25,148.60 47.99,148.60 47.73,148.60 47.48,148.60 47.22,148.60 46.96,148.60 46.70,148.60 46.44,148.60 46.18,148.60 45.93,148.60 45.67,148.60 45.41,148.60 45.15,148.60 44.89,148.60 44.63,148.60 44.38,148.60 44.12,148.60 43.86,148.60 43.60,148.60" fill="#40BC62" fill-opacity="0.27"/>
<polygon points="43.60,148.60 43.86,148.60 44.12,148.60 44.38,148.60 44.63,148.59 44.89,148.59 45.15,148.59 45.41,148.59 45.67,148.58 45.93,148.58 46.18,148.57 46.44,148.57 46.70,148.56 46.96,148.54 47.22,148.53 47.48,148.51 47.73,148.48 47.99,148.45 48.25,148.41 48.51,148.36 48.77,148.30 49.02,148.22 49.28,148.12 49.54,148.00 49.80,147.85 50.06,147.67 50.32,147.44 50.58,147.17 50.83,146.85 51.09,146.47 51.35,146.02 51.61,145.52 51.87,144.94 52.12,144.30 52.38,143.59 52.64,142.82 52.90,141.99 53.16,141.12 53.42,140.20 53.68,139.24 53.93,138.26 54.19,137.25 54.45,136.22 54.71,135.18 54.97,134.13 55.23,133.07 55.48,132.02 55.74,130.96 56.00,129.91 56.26,128.86 56.52,127.82 56.77,126.78 57.03,125.76 57.29,124.75 57.55,123.74 57.81,122.75 58.07,121.77 58.33,120.80 58.58,119.84 58.84,118.90 59.10,117.97 59.36,117.05 59.62,116.14 59.88,115.24 60.13,114.36 60.39,113.49 60.65,112.63 60.91,111.79 61.17,110.95 61.42,110.13 61.68,109.32 61.94,108.52 62.20,107.74 62.46,106.96 62.72,106.20 62.98,105.45 63.23,104.71 63.49,103.98 63.75,103.26 64.01,102.55 64.27,101.86 64.53,101.17 64.78,100.50 65.04,99.84 65.30,99.18 65.56,98.54 65.82,97.91 66.08,97.28 66.33,96.67 66.59,96.07 66.85,95.47 67.11,94.89 67.37,94.31 67.62,93.75 67.88,93.19 68.14,92.65 68.40,92.11 68.66,91.58 68.92,91.06 69.17,90.55 69.43,90.04 69.69,89.55 69.95,89.06 70.21,88.58 70.47,88.11 70.72,87.65 70.98,87.19 71.24,86.75 71.50,86.31 71.76,85.87 72.02,85.45 72.28,85.03 72.53,84.62 72.79,84.22 73.05,83.82 73.31,83.43 73.57,83.05 73.83,82.67 74.08,82.30 74.34,81.94 74.60,81.58 74.86,81.23 75.38,80.55 75.89,79.89 76.41,79.25 76.93,78.63 77.45,78.04 77.96,77.47 78.48,76.91 79.00,76.38 79.52,75.86 80.03,75.37 80.55,74.89 81.07,74.42 81.59,73.97 82.10,73.54 82.62,73.11 83.14,72.71 83.66,72.31 84.17,71.93 84.69,71.56 85.21,71.20 85.73,70.85 86.24,70.51 86.76,70.18 87.28,69.86 87.80,69.55 88.31,69.25 88.83,68.95 89.35,68.66 89.87,68.38 90.38,68.11 90.90,67.84 91.42,67.57 91.94,67.32 92.45,67.07 92.97,66.82 93.49,66.58 94.01,66.34 94.52,66.11 95.04,65.89 95.56,65.67 96.08,65.45 96.59,65.23 97.11,65.03 97.63,64.82 98.15,64.62 98.66,64.42 99.18,64.23 99.70,64.04 100.22,63.85 100.73,63.67 101.25,63.49 101.77,63.32 102.29,63.15 102.80,62.98 103.32,62.82 103.84,62.66 104.36,62.51 104.88,62.36 105.39,62.21 105.91,62.06 106.43,61.92 106.95,61.79 107.46,61.65 107.98,61.52 108.50,61.40 109.02,61.28 109.53,61.16 110.05,61.04 110.57,60.93 111.09,60.82 111.60,60.71 112.12,60.61 112.64,60.51 113.16,60.42 113.67,60.32 114.19,60.23 114.71,60.14 115.23,60.06 115.74,59.98 116.26,59.90 116.78,59.82 117.30,59.74 117.81,59.67 118.33,59.60 118.85,59.53 119.37,59.47 119.88,59.40 120.40,59.34 120.92,59.28 121.44,59.22 121.95,59.16 122.47,59.11 122.99,59.05 123.51,59.00 124.02,58.95 124.54,58.90 125.06,58.85 125.58,58.80 126.09,58.76 126.61,58.71 127.13,58.67 127.65,58.63 128.16,58.59 128.68,58.55 129.20,58.51 129.72,58.47 130.23,58.43 130.75,58.40 131.27,58.36 131.79,58.33 132.30,58.29 132.82,58.26 133.34,58.23 133.86,58.20 134.37,58.17 134.89,58.14 135.41,58.11 135.93,58.08 136.44,58.05 136.96,58.02 137.48,58.00 138.00,57.97 138.51,57.95 139.03,57.93 139.55,57.90 140.07,57.88 140.58,57.86 141.10,57.84 141.62,57.82 142.14,57.80 142.65,57.78 143.17,57.76 143.69,57.74 144.21,57.72 144.72,57.71 145.24,57.69 145.76,57.68 146.28,57.66 146.80,57.65 147.31,57.63 147.83,57.62 148.35,57.61 148.87,57.60 149.38,57.58 149.90,57.57 150.42,57.56 150.94,57.55 151.45,57.53 151.97,57.52 152.49,57.51 153.01,57.50 153.52,57.49 154.04,57.47 154.56,57.46 155.08,57.45 155.59,57.44 156.11,57.43 156.63,57.42 157.15,57.41 157.66,57.40 158.18,57.39 158.70,57.37 159.22,57.36 159.73,57.35 160.25,57.34 160.77,57.33 161.29,57.32 161.80,57.31 162.32,57.30 162.84,57.29 163.36,57.28 163.87,57.27 164.39,57.26 164.91,57.25 165.43,57.24 165.94,57.23 166.46,57.22 166.98,57.21 167.50,57.20 168.01,57.19 168.53,57.18 169.05,57.17 169.57,57.16 170.08,57.15 170.60,57.14 171.12,57.14 171.64,57.13 172.15,57.12 172.67,57.11 173.19,57.10 173.71,57.09 174.22,57.08 174.74,57.07 175.26,57.06 175.78,57.05 176.29,57.04 176.81,57.03 177.33,57.02 177.85,57.01 178.36,57.01 178.88,57.00 179.40,56.99 179.92,56.98 180.43,56.97 180.95,56.96 181.47,56.95 181.99,56.94 182.50,56.93 183.02,56.92 183.54,56.92 184.06,56.91 184.57,56.90 185.09,56.89 185.61,56.88 186.13,56.87 186.64,56.86 187.16,56.85 187.68,56.84 188.20,56.84 188.72,56.83 189.23,56.82 189.75,56.81 190.27,56.80 190.79,56.79 191.30,56.78 191.82,56.77 192.34,56.76 192.86,56.76 193.37,56.75 193.89,56.74 194.41,56.73 194.93,56.72 195.44,56.71 195.96,56.70 196.48,56.69 197.00,56.69 197.51,56.68 198.03,56.67 198.55,56.66 199.07,56.65 199.58,56.64 200.10,56.63 200.62,56.62 201.14,56.62 201.65,56.61 202.17,56.60 202.69,56.59 203.21,56.58 203.72,56.57 204.24,56.56 204.76,56.55 205.28,56.55 205.79,56.54 206.31,56.53 206.83,56.52 207.35,56.51 207.86,56.50 208.38,56.49 208.90,56.48 209.42,56.48 209.93,56.47 210.45,56.46 210.97,56.45 211.49,56.44 212.00,56.43 212.52,56.42 213.04,56.42 213.56,56.41 214.07,56.40 214.59,56.39 215.11,56.38 215.63,56.37 216.14,56.36 216.66,56.35 217.18,56.35 217.70,56.34 218.21,56.33 218.73,56.32 219.25,56.31 219.77,56.30 220.28,56.29 220.80,56.29 221.32,56.28 221.84,56.27 222.35,56.26 222.87,56.25 223.39,56.24 223.91,56.23 224.42,56.22 224.94,56.22 225.46,56.21 225.98,56.20 226.49,56.19 227.01,56.18 227.53,56.17 228.05,56.16 228.56,56.16 229.08,56.15 229.60,56.14 229.60,68.51 229.08,68.52 228.56,68.53 228.05,68.54 227.53,68.54 227.01,68.55 226.49,68.56 225.98,68.57 225.46,68.57 224.94,68.58 224.42,68.59 223.91,68.60 223.39,68.60 222.87,68.61 222.35,68.62 221.84,68.63 221.32,68.63 220.80,68.64 220.28,68.65 219.77,68.66 219.25,68.66 218.73,68.67 218.21,68.68 217.70,68.69 217.18,68.69 216.66,68.70 216.14,68.71 215.63,68.72 215.11,68.72 214.59,68.73 214.07,68.74 213.56,68.75 213.04,68.75 212.52,68.76 212.00,68.77 211.49,68.78 210.97,68.78 210.45,68.79 209.93,68.80 209.42,68.81 208.90,68.81 208.38,68.82 207.86,68.83 207.35,68.84 206.83,68.84 206.31,68.85 205.79,68.86 205.28,68.87 204.76,68.88 204.24,68.88 203.72,68.89 203.21,68.90 202.69,68.91 202.17,68.91 201.65,68.92 201.14,68.93 200.62,68.94 200.10,68.94 199.58,68.95 199.07,68.96 198.55,68.97 198.03,68.97 197.51,68.98 197.00,68.99 196.48,69.00 195.96,69.00 195.44,69.01 194.93,69.02 194.41,69.03 193.89,69.04 193.37,69.04 192.86,69.05 192.34,69.06 191.82,69.07 191.30,69.07 190.79,69.08 190.27,69.09 189.75,69.10 189.23,69.11 188.72,69.11 188.20,69.12 187.68,69.13 187.16,69.14 186.64,69.14 186.13,69.15 185.61,69.16 185.09,69.17 184.57,69.18 184.06,69.18 183.54,69.19 183.02,69.20 182.50,69.21 181.99,69.22 181.47,69.22 180.95,69.23 180.43,69.24 179.92,69.25 179.40,69.26 178.88,69.26 178.36,69.27 177.85,69.28 177.33,69.29 176.81,69.30 176.29,69.30 175.78,69.31 175.26,69.32 174.74,69.33 174.22,69.34 173.71,69.35 173.19,69.35 172.67,69.36 172.15,69.37 171.64,69.38 171.12,69.39 170.60,69.40 170.08,69.41 169.57,69.41 169.05,69.42 168.53,69.43 168.01,69.44 167.50,69.45 166.98,69.46 166.46,69.47 165.94,69.48 165.43,69.49 164.91,69.50 164.39,69.50 163.87,69.51 163.36,69.52 162.84,69.53 162.32,69.54 161.80,69.55 161.29,69.56 160.77,69.57 160.25,69.58 159.73,69.59 159.22,69.60 158.70,69.61 158.18,69.62 157.66,69.63 157.15,69.64 156.63,69.65 156.11,69.66 155.59,69.68 155.08,69.69 154.56,69.70 154.04,69.71 153.52,69.72 153.01,69.73 152.49,69.74 151.97,69.76 151.45,69.77 150.94,69.78 150.42,69.79 149.90,69.80 149.38,69.82 148.87,69.83 148.35,69.84 147.83,69.86 147.31,69.87 146.80,69.88 146.28,69.90 145.76,69.91 145.24,69.93 144.72,69.94 144.21,69.95 143.69,69.96 143.17,69.98 142.65,69.99 142.14,70.00 141.62,70.02 141.10,70.03 140.58,70.04 140.07,70.05 139.55,70.07 139.03,70.08 138.51,70.09 138.00,70.11 137.48,70.12 136.96,70.13 136.44,70.15 135.93,70.16 135.41,70.18 134.89,70.19 134.37,70.21 133.86,70.22 133.34,70.24 132.82,70.26 132.30,70.27 131.79,70.29 131.27,70.31 130.75,70.33 130.23,70.35 129.72,70.37 129.20,70.39 128.68,70.41 128.16,70.44 127.65,70.46 127.13,70.49 126.61,70.52 126.09,70.55 125.58,70.58 125.06,70.61 124.54,70.64 124.02,70.68 123.51,70.71 122.99,70.75 122.47,70.79 121.95,70.84 121.44,70.88 120.92,70.93 120.40,70.98 119.88,71.03 119.37,71.08 118.85,71.14 118.33,71.20 117.81,71.26 117.30,71.33 116.78,71.39 116.26,71.46 115.74,71.54 115.23,71.62 114.71,71.70 114.19,71.78 113.67,71.86 113.16,71.95 112.64,72.05 112.12,72.14 111.60,72.24 111.09,72.35 110.57,72.45 110.05,72.56 109.53,72.68 109.02,72.79 108.50,72.91 107.98,73.04 107.46,73.17 106.95,73.30 106.43,73.44 105.91,73.57 105.39,73.72 104.88,73.86 104.36,74.02 103.84,74.17 103.32,74.33 102.80,74.49 102.29,74.66 101.77,74.83 101.25,75.00 100.73,75.18 100.22,75.37 99.70,75.56 99.18,75.75 98.66,75.95 98.15,76.15 97.63,76.36 97.11,76.57 96.59,76.79 96.08,77.02 95.56,77.25 95.04,77.49 94.52,77.74 94.01,77.99 93.49,78.26 92.97,78.53 92.45,78.81 91.94,79.09 91.42,79.39 90.90,79.70 90.38,80.02 89.87,80.34 89.35,80.68 88.83,81.04 88.31,81.40 87.80,81.78 87.28,82.17 86.76,82.58 86.24,83.00 85.73,83.43 85.21,83.89 84.69,84.35 84.17,84.84 83.66,85.34 83.14,85.87 82.62,86.41 82.10,86.97 81.59,87.56 81.07,88.16 80.55,88.79 80.03,89.44 79.52,90.11 79.00,90.81 78.48,91.53 77.96,92.28 77.45,93.05 76.93,93.85 76.41,94.68 75.89,95.54 75.38,96.43 74.86,97.34 74.60,97.81 74.34,98.29 74.08,98.78 73.83,99.27 73.57,99.77 73.31,100.28 73.05,100.80 72.79,101.33 72.53,101.86 72.28,102.40 72.02,102.96 71.76,103.52 71.50,104.09 71.24,104.67 70.98,105.26 70.72,105.86 70.47,106.46 70.21,107.08 69.95,107.71 69.69,108.35 69.43,108.99 69.17,109.65 68.92,110.32 68.66,111.00 68.40,111.68 68.14,112.38 67.88,113.09 67.62,113.81 67.37,114.54 67.11,115.28 66.85,116.03 66.59,116.79 66.33,117.57 66.08,118.35 65.82,119.15 65.56,119.96 65.30,120.77 65.04,121.60 64.78,122.44 64.53,123.30 64.27,124.16 64.01,125.03 63.75,125.92 63.49,126.81 63.23,127.72 62.98,128.63 62.72,129.56 62.46,130.49 62.20,131.43 61.94,132.38 61.68,133.34 61.42,134.29 61.17,135.25 60.91,136.21 60.65,137.17 60.39,138.12 60.13,139.05 59.88,139.98 59.62,140.87 59.36,141.75 59.10,142.59 58.84,143.38 58.58,144.13 58.33,144.83 58.07,145.46 57.81,146.03 57.55,146.54 57.29,146.98 57.03,147.36 56.77,147.67 56.52,147.93 56.26,148.14 56.00,148.30 55.74,148.42 55.48,148.51 55.23,148.58 54.97,148.60 54.71,148.60 54.45,148.60 54.19,148.60 53.93,148.60 53.68,148.60 53.42,148.60 53.16,148.60 52.90,148.60 52.64,148.60 52.38,148.60 52.12,148.60 51.87,148.60 51.61,148.60 51.35,148.60 51.09,148.60 50.83,148.60 50.58,148.60 50.32,148.60 50.06,148.60 49.80,148.60 49.54,148.60 49.28,148.60 49.02,148.60 48.77,148.60 48.51,148.60 48.25,148.60 47.99,148.60 47.73,148.60 47.48,148.60 47.22,148.60 46.96,148.60 46.70,148.60 46.44,148.60 46.18,148.60 45.93,148.60 45.67,148.60 45.41,148.60 45.15,148.60 44.89,148.60 44.63,148.60 44.38,148.60 44.12,148.60 43.86,148.60 43.60,148.60" fill="#7A489B" fill-opacity="0.29"/>
<polygon points="43.60,148.60 43.86,148.60 44.12,148.60 44.38,148.59 44.63,148.59 44.89,148.59 45.15,148.59 45.41,148.59 45.67,148.59 45.93,148.58 46.18,148.58 46.44,148.57 46.70,148.57 46.96,148.56 47.22,148.55 47.48,148.55 47.73,148.53 47.99,148.52 48.25,148.50 48.51,148.48 48.77,148.46 49.02,148.43 49.28,148.40 49.54,148.36 49.80,148.31 50.06,148.25 50.32,148.18 50.58,148.09 50.83,147.99 51.09,147.87 51.35,147.72 51.61,147.55 51.87,147.35 52.12,147.11 52.38,146.83 52.64,146.50 52.90,146.12 53.16,145.69 53.42,145.20 53.68,144.65 53.93,144.03 54.19,143.36 54.45,142.63 54.71,141.85 54.97,141.02 55.23,140.15 55.48,139.26 55.74,138.35 56.00,137.42 56.26,136.49 56.52,135.56 56.77,134.63 57.03,133.72 57.29,132.82 57.55,131.94 57.81,131.08 58.07,130.23 58.33,129.41 58.58,128.60 58.84,127.82 59.10,127.06 59.36,126.32 59.62,125.59 59.88,124.89 60.13,124.20 60.39,123.54 60.65,122.89 60.91,122.26 61.17,121.64 61.42,121.04 61.68,120.46 61.94,119.89 62.20,119.33 62.46,118.79 62.72,118.26 62.98,117.74 63.23,117.24 63.49,116.75 63.75,116.27 64.01,115.80 64.27,115.34 64.53,114.89 64.78,114.45 65.04,114.03 65.30,113.61 65.56,113.20 65.82,112.80 66.08,112.41 66.33,112.02 66.59,111.65 66.85,111.28 67.11,110.92 67.37,110.57 67.62,110.23 67.88,109.89 68.14,109.56 68.40,109.23 68.66,108.92 68.92,108.61 69.17,108.30 69.43,108.01 69.69,107.71 69.95,107.43 70.21,107.15 70.47,106.87 70.72,106.60 70.98,106.34 71.24,106.08 71.50,105.82 71.76,105.57 72.02,105.33 72.28,105.09 72.53,104.85 72.79,104.62 73.05,104.39 73.31,104.17 73.57,103.95 73.83,103.73 74.08,103.52 74.34,103.32 74.60,103.11 74.86,102.91 75.38,102.52 75.89,102.15 76.41,101.79 76.93,101.44 77.45,101.10 77.96,100.77 78.48,100.46 79.00,100.15 79.52,99.86 80.03,99.58 80.55,99.30 81.07,99.04 81.59,98.78 82.10,98.53 82.62,98.29 83.14,98.06 83.66,97.83 84.17,97.62 84.69,97.40 85.21,97.20 85.73,97.00 86.24,96.81 86.76,96.62 87.28,96.44 87.80,96.26 88.31,96.08 88.83,95.91 89.35,95.75 89.87,95.58 90.38,95.43 90.90,95.27 91.42,95.12 91.94,94.97 92.45,94.83 92.97,94.69 93.49,94.55 94.01,94.41 94.52,94.28 95.04,94.15 95.56,94.02 96.08,93.90 96.59,93.77 97.11,93.65 97.63,93.53 98.15,93.41 98.66,93.30 99.18,93.19 99.70,93.07 100.22,92.96 100.73,92.86 101.25,92.75 101.77,92.64 102.29,92.54 102.80,92.44 103.32,92.34 103.84,92.24 104.36,92.14 104.88,92.04 105.39,91.94 105.91,91.85 106.43,91.75 106.95,91.66 107.46,91.57 107.98,91.48 108.50,91.39 109.02,91.30 109.53,91.21 110.05,91.12 110.57,91.03 111.09,90.94 111.60,90.86 112.12,90.77 112.64,90.69 113.16,90.60 113.67,90.52 114.19,90.44 114.71,90.35 115.23,90.27 115.74,90.19 116.26,90.11 116.78,90.03 117.30,89.95 117.81,89.87 118.33,89.79 118.85,89.71 119.37,89.63 119.88,89.55 120.40,89.47 120.92,89.39 121.44,89.32 121.95,89.24 122.47,89.16 122.99,89.08 123.51,89.01 124.02,88.93 124.54,88.86 125.06,88.78 125.58,88.70 126.09,88.63 126.61,88.55 127.13,88.48 127.65,88.41 128.16,88.33 128.68,88.26 129.20,88.18 129.72,88.11 130.23,88.04 130.75,87.96 131.27,87.89 131.79,87.82 132.30,87.75 132.82,87.67 133.34,87.60 133.86,87.53 134.37,87.46 134.89,87.39 135.41,87.32 135.93,87.24 136.44,87.17 136.96,87.10 137.48,87.03 138.00,86.96 138.51,86.89 139.03,86.82 139.55,86.75 140.07,86.68 140.58,86.61 141.10,86.55 141.62,86.48 142.14,86.41 142.65,86.34 143.17,86.27 143.69,86.20 144.21,86.14 144.72,86.07 145.24,86.00 145.76,85.94 146.28,85.87 146.80,85.80 147.31,85.74 147.83,85.67 148.35,85.61 148.87,85.54 149.38,85.48 149.90,85.41 150.42,85.35 150.94,85.28 151.45,85.22 151.97,85.16 152.49,85.09 153.01,85.03 153.52,84.97 154.04,84.91 154.56,84.84 155.08,84.78 155.59,84.72 156.11,84.66 156.63,84.60 157.15,84.54 157.66,84.48 158.18,84.42 158.70,84.36 159.22,84.31 159.73,84.25 160.25,84.19 160.77,84.13 161.29,84.08 161.80,84.02 162.32,83.96 162.84,83.91 163.36,83.85 163.87,83.80 164.39,83.75 164.91,83.69 165.43,83.64 165.94,83.59 166.46,83.53 166.98,83.48 167.50,83.43 168.01,83.38 168.53,83.33 169.05,83.28 169.57,83.23 170.08,83.19 170.60,83.14 171.12,83.09 171.64,83.04 172.15,83.00 172.67,82.95 173.19,82.91 173.71,82.86 174.22,82.82 174.74,82.78 175.26,82.74 175.78,82.69 176.29,82.65 176.81,82.61 177.33,82.57 177.85,82.53 178.36,82.50 178.88,82.46 179.40,82.42 179.92,82.39 180.43,82.35 180.95,82.32 181.47,82.28 181.99,82.25 182.50,82.22 183.02,82.18 183.54,82.15 184.06,82.12 184.57,82.09 185.09,82.07 185.61,82.04 186.13,82.01 186.64,81.98 187.16,81.96 187.68,81.94 188.20,81.91 188.72,81.89 189.23,81.87 189.75,81.85 190.27,81.83 190.79,81.81 191.30,81.79 191.82,81.77 192.34,81.75 192.86,81.74 193.37,81.72 193.89,81.71 194.41,81.70 194.93,81.68 195.44,81.67 195.96,81.66 196.48,81.64 197.00,81.63 197.51,81.61 198.03,81.60 198.55,81.59 199.07,81.57 199.58,81.56 200.10,81.54 200.62,81.53 201.14,81.52 201.65,81.50 202.17,81.49 202.69,81.48 203.21,81.46 203.72,81.45 204.24,81.43 204.76,81.42 205.28,81.41 205.79,81.39 206.31,81.38 206.83,81.37 207.35,81.35 207.86,81.34 208.38,81.33 208.90,81.31 209.42,81.30 209.93,81.28 210.45,81.27 210.97,81.26 211.49,81.24 212.00,81.23 212.52,81.22 213.04,81.20 213.56,81.19 214.07,81.18 214.59,81.16 215.11,81.15 215.63,81.14 216.14,81.12 216.66,81.11 217.18,81.10 217.70,81.08 218.21,81.07 218.73,81.05 219.25,81.04 219.77,81.03 220.28,81.01 220.80,81.00 221.32,80.99 221.84,80.97 222.35,80.96 222.87,80.95 223.39,80.93 223.91,80.92 224.42,80.91 224.94,80.89 225.46,80.88 225.98,80.87 226.49,80.85 227.01,80.84 227.53,80.83 228.05,80.81 228.56,80.80 229.08,80.79 229.60,80.77 229.60,95.83 229.08,95.84 228.56,95.85 228.05,95.86 227.53,95.87 227.01,95.88 226.49,95.89 225.98,95.90 225.46,95.91 224.94,95.92 224.42,95.93 223.91,95.94 223.39,95.96 222.87,95.97 222.35,95.98 221.84,95.99 221.32,96.00 220.80,96.01 220.28,96.02 219.77,96.03 219.25,96.04 218.73,96.05 218.21,96.06 217.70,96.07 217.18,96.08 216.66,96.09 216.14,96.10 215.63,96.11 215.11,96.12 214.59,96.13 214.07,96.15 213.56,96.16 213.04,96.17 212.52,96.18 212.00,96.19 211.49,96.20 210.97,96.21 210.45,96.22 209.93,96.23 209.42,96.24 208.90,96.25 208.38,96.26 207.86,96.27 207.35,96.28 206.83,96.29 206.31,96.30 205.79,96.32 205.28,96.33 204.76,96.34 204.24,96.35 203.72,96.36 203.21,96.37 202.69,96.38 202.17,96.39 201.65,96.40 201.14,96.41 200.62,96.42 200.10,96.43 199.58,96.44 199.07,96.46 198.55,96.47 198.03,96.48 197.51,96.49 197.00,96.50 196.48,96.51 195.96,96.52 195.44,96.53 194.93,96.54 194.41,96.55 193.89,96.57 193.37,96.58 192.86,96.59 192.34,96.60 191.82,96.60 191.30,96.61 190.79,96.62 190.27,96.63 189.75,96.63 189.23,96.63 188.72,96.64 188.20,96.64 187.68,96.64 187.16,96.64 186.64,96.64 186.13,96.64 185.61,96.64 185.09,96.64 184.57,96.64 184.06,96.63 183.54,96.63 183.02,96.62 182.50,96.62 181.99,96.61 181.47,96.60 180.95,96.60 180.43,96.59 179.92,96.58 179.40,96.57 178.88,96.56 178.36,96.55 177.85,96.54 177.33,96.52 176.81,96.51 176.29,96.50 175.78,96.48 175.26,96.47 174.74,96.45 174.22,96.44 173.71,96.42 173.19,96.40 172.67,96.39 172.15,96.37 171.64,96.35 171.12,96.33 170.60,96.31 170.08,96.29 169.57,96.27 169.05,96.25 168.53,96.23 168.01,96.21 167.50,96.18 166.98,96.16 166.46,96.14 165.94,96.12 165.43,96.09 164.91,96.07 164.39,96.04 163.87,96.02 163.36,95.99 162.84,95.97 162.32,95.94 161.80,95.92 161.29,95.89 160.77,95.86 160.25,95.84 159.73,95.81 159.22,95.78 158.70,95.76 158.18,95.73 157.66,95.70 157.15,95.67 156.63,95.64 156.11,95.62 155.59,95.59 155.08,95.56 154.56,95.53 154.04,95.50 153.52,95.47 153.01,95.44 152.49,95.41 151.97,95.38 151.45,95.36 150.94,95.33 150.42,95.30 149.90,95.27 149.38,95.24 148.87,95.21 148.35,95.18 147.83,95.15 147.31,95.12 146.80,95.09 146.28,95.06 145.76,95.03 145.24,95.00 144.72,94.98 144.21,94.95 143.69,94.92 143.17,94.89 142.65,94.86 142.14,94.83 141.62,94.81 141.10,94.78 140.58,94.75 140.07,94.73 139.55,94.70 139.03,94.67 138.51,94.65 138.00,94.62 137.48,94.60 136.96,94.57 136.44,94.55 135.93,94.52 135.41,94.50 134.89,94.48 134.37,94.45 133.86,94.43 133.34,94.41 132.82,94.39 132.30,94.37 131.79,94.35 131.27,94.33 130.75,94.31 130.23,94.29 129.72,94.27 129.20,94.26 128.68,94.24 128.16,94.22 127.65,94.21 127.13,94.20 126.61,94.18 126.09,94.17 125.58,94.16 125.06,94.15 124.54,94.14 124.02,94.13 123.51,94.12 122.99,94.12 122.47,94.11 121.95,94.11 121.44,94.10 120.92,94.10 120.40,94.10 119.88,94.10 119.37,94.10 118.85,94.10 118.33,94.11 117.81,94.11 117.30,94.12 116.78,94.13 116.26,94.14 115.74,94.15 115.23,94.16 114.71,94.18 114.19,94.19 113.67,94.21 113.16,94.23 112.64,94.25 112.12,94.27 111.60,94.30 111.09,94.33 110.57,94.35 110.05,94.39 109.53,94.42 109.02,94.45 108.50,94.49 107.98,94.53 107.46,94.57 106.95,94.62 106.43,94.67 105.91,94.72 105.39,94.77 104.88,94.82 104.36,94.88 103.84,94.94 103.32,95.01 102.80,95.07 102.29,95.14 101.77,95.22 101.25,95.30 100.73,95.38 100.22,95.46 99.70,95.55 99.18,95.64 98.66,95.74 98.15,95.83 97.63,95.94 97.11,96.05 96.59,96.16 96.08,96.28 95.56,96.40 95.04,96.53 94.52,96.66 94.01,96.79 93.49,96.94 92.97,97.09 92.45,97.24 91.94,97.40 91.42,97.56 90.90,97.74 90.38,97.92 89.87,98.10 89.35,98.29 88.83,98.49 88.31,98.70 87.80,98.92 87.28,99.14 86.76,99.37 86.24,99.61 85.73,99.86 85.21,100.12 84.69,100.38 84.17,100.66 83.66,100.95 83.14,101.25 82.62,101.55 82.10,101.87 81.59,102.20 81.07,102.54 80.55,102.89 80.03,103.26 79.52,103.64 79.00,104.03 78.48,104.44 77.96,104.87 77.45,105.31 76.93,105.76 76.41,106.24 75.89,106.73 75.38,107.24 74.86,107.78 74.60,108.05 74.34,108.33 74.08,108.61 73.83,108.91 73.57,109.20 73.31,109.50 73.05,109.81 72.79,110.13 72.53,110.45 72.28,110.78 72.02,111.12 71.76,111.46 71.50,111.81 71.24,112.17 70.98,112.53 70.72,112.91 70.47,113.29 70.21,113.68 69.95,114.08 69.69,114.48 69.43,114.90 69.17,115.33 68.92,115.76 68.66,116.21 68.40,116.67 68.14,117.14 67.88,117.61 67.62,118.11 67.37,118.61 67.11,119.12 66.85,119.65 66.59,120.19 66.33,120.75 66.08,121.32 65.82,121.90 65.56,122.50 65.30,123.11 65.04,123.75 64.78,124.39 64.53,125.06 64.27,125.75 64.01,126.45 63.75,127.17 63.49,127.91 63.23,128.67 62.98,129.46 62.72,130.26 62.46,131.08 62.20,131.92 61.94,132.79 61.68,133.66 61.42,134.56 61.17,135.46 60.91,136.38 60.65,137.30 60.39,138.21 60.13,139.12 59.88,140.01 59.62,140.87 59.36,141.71 59.10,142.49 58.84,143.24 58.58,143.92 58.33,144.55 58.07,145.12 57.81,145.62 57.55,146.07 57.29,146.46 57.03,146.79 56.77,147.08 56.52,147.33 56.26,147.54 56.00,147.71 55.74,147.86 55.48,147.99 55.23,148.09 54.97,148.18 54.71,148.25 54.45,148.31 54.19,148.36 53.93,148.40 53.68,148.43 53.42,148.46 53.16,148.49 52.90,148.51 52.64,148.52 52.38,148.53 52.12,148.55 51.87,148.56 51.61,148.56 51.35,148.57 51.09,148.57 50.83,148.58 50.58,148.58 50.32,148.59 50.06,148.59 49.80,148.59 49.54,148.59 49.28,148.59 49.02,148.59 48.77,148.60 48.51,148.60 48.25,148.60 47.99,148.60 47.73,148.60 47.48,148.60 47.22,148.60 46.96,148.60 46.70,148.60 46.44,148.60 46.18,148.60 45.93,148.60 45.67,148.60 45.41,148.60 45.15,148.60 44.89,148.60 44.63,148.60 44.38,148.60 44.12,148.60 43.86,148.60 43.60,148.60" fill="#3773A5" fill-opacity="0.3"/>
<polyline points="43.60,148.60 43.86,148.60 44.12,148.59 44.38,148.59 44.63,148.59 44.89,148.59 45.15,148.59 45.41,148.58 45.67,148.58 45.93,148.57 46.18,148.56 46.44,148.55 46.70,148.53 46.96,148.52 47.22,148.49 47.48,148.46 47.73,148.43 47.99,148.38 48.25,148.32 48.51,148.25 48.77,148.15 49.02,148.04 49.28,147.89 49.54,147.71 49.80,147.49 50.06,147.22 50.32,146.89 50.58,146.50 50.83,146.03 51.09,145.47 51.35,144.83 51.61,144.09 51.87,143.26 52.12,142.33 52.38,141.31 52.64,140.21 52.90,139.03 53.16,137.78 53.42,136.48 53.68,135.13 53.93,133.74 54.19,132.32 54.45,130.88 54.71,129.43 54.97,127.97 55.23,126.51 55.48,125.05 55.74,123.60 56.00,122.16 56.26,120.72 56.52,119.31 56.77,117.90 57.03,116.51 57.29,115.14 57.55,113.78 57.81,112.44 58.07,111.12 58.33,109.82 58.58,108.53 58.84,107.27 59.10,106.02 59.36,104.79 59.62,103.58 59.88,102.38 60.13,101.21 60.39,100.05 60.65,98.91 60.91,97.79 61.17,96.69 61.42,95.60 61.68,94.53 61.94,93.48 62.20,92.44 62.46,91.43 62.72,90.42 62.98,89.44 63.23,88.47 63.49,87.52 63.75,86.58 64.01,85.66 64.27,84.75 64.53,83.86 64.78,82.98 65.04,82.12 65.30,81.27 65.56,80.44 65.82,79.62 66.08,78.82 66.33,78.03 66.59,77.25 66.85,76.49 67.11,75.74 67.37,75.00 67.62,74.28 67.88,73.57 68.14,72.87 68.40,72.18 68.66,71.51 68.92,70.84 69.17,70.19 69.43,69.56 69.69,68.93 69.95,68.31 70.21,67.71 70.47,67.12 70.72,66.54 70.98,65.96 71.24,65.40 71.50,64.85 71.76,64.31 72.02,63.78 72.28,63.26 72.53,62.75 72.79,62.25 73.05,61.76 73.31,61.28 73.57,60.80 73.83,60.34 74.08,59.89 74.34,59.44 74.60,59.00 74.86,58.57 75.38,57.74 75.89,56.93 76.41,56.16 76.93,55.42 77.45,54.71 77.96,54.02 78.48,53.36 79.00,52.72 79.52,52.11 80.03,51.53 80.55,50.96 81.07,50.42 81.59,49.90 82.10,49.40 82.62,48.91 83.14,48.44 83.66,47.99 84.17,47.56 84.69,47.14 85.21,46.74 85.73,46.34 86.24,45.96 86.76,45.60 87.28,45.24 87.80,44.89 88.31,44.56 88.83,44.23 89.35,43.91 89.87,43.60 90.38,43.30 90.90,43.00 91.42,42.72 91.94,42.43 92.45,42.16 92.97,41.89 93.49,41.62 94.01,41.36 94.52,41.11 95.04,40.86 95.56,40.61 96.08,40.37 96.59,40.14 97.11,39.91 97.63,39.68 98.15,39.46 98.66,39.24 99.18,39.02 99.70,38.81 100.22,38.61 100.73,38.41 101.25,38.21 101.77,38.02 102.29,37.83 102.80,37.64 103.32,37.47 103.84,37.29 104.36,37.12 104.88,36.96 105.39,36.80 105.91,36.64 106.43,36.49 106.95,36.35 107.46,36.21 107.98,36.07 108.50,35.94 109.02,35.81 109.53,35.69 110.05,35.58 110.57,35.46 111.09,35.36 111.60,35.25 112.12,35.15 112.64,35.06 113.16,34.97 113.67,34.88 114.19,34.80 114.71,34.72 115.23,34.65 115.74,34.58 116.26,34.51 116.78,34.45 117.30,34.39 117.81,34.33 118.33,34.28 118.85,34.23 119.37,34.18 119.88,34.13 120.40,34.09 120.92,34.05 121.44,34.01 121.95,33.98 122.47,33.94 122.99,33.91 123.51,33.88 124.02,33.85 124.54,33.82 125.06,33.80 125.58,33.78 126.09,33.75 126.61,33.73 127.13,33.71 127.65,33.69 128.16,33.68 128.68,33.66 129.20,33.65 129.72,33.63 130.23,33.62 130.75,33.61 131.27,33.60 131.79,33.58 132.30,33.57 132.82,33.57 133.34,33.56 133.86,33.55 134.37,33.54 134.89,33.53 135.41,33.53 135.93,33.52 136.44,33.52 136.96,33.51 137.48,33.51 138.00,33.50 138.51,33.50 139.03,33.50 139.55,33.50 140.07,33.49 140.58,33.49 141.10,33.49 141.62,33.49 142.14,33.49 142.65,33.49 143.17,33.49 143.69,33.48 144.21,33.48 144.72,33.48 145.24,33.49 145.76,33.49 146.28,33.49 146.80,33.49 147.31,33.49 147.83,33.49 148.35,33.49 148.87,33.49 149.38,33.50 149.90,33.50 150.42,33.50 150.94,33.50 151.45,33.51 151.97,33.51 152.49,33.51 153.01,33.51 153.52,33.52 154.04,33.52 154.56,33.52 155.08,33.53 155.59,33.53 156.11,33.53 156.63,33.54 157.15,33.54 157.66,33.55 158.18,33.55 158.70,33.55 159.22,33.56 159.73,33.56 160.25,33.57 160.77,33.57 161.29,33.57 161.80,33.58 162.32,33.58 162.84,33.59 163.36,33.59 163.87,33.60 164.39,33.60 164.91,33.61 165.43,33.61 165.94,33.62 166.46,33.62 166.98,33.63 167.50,33.63 168.01,33.64 168.53,33.64 169.05,33.65 169.57,33.65 170.08,33.66 170.60,33.66 171.12,33.67 171.64,33.67 172.15,33.68 172.67,33.69 173.19,33.69 173.71,33.70 174.22,33.70 174.74,33.71 175.26,33.71 175.78,33.72 176.29,33.72 176.81,33.73 177.33,33.73 177.85,33.74 178.36,33.75 178.88,33.75 179.40,33.76 179.92,33.76 180.43,33.77 180.95,33.77 181.47,33.78 181.99,33.79 182.50,33.79 183.02,33.80 183.54,33.80 184.06,33.81 184.57,33.82 185.09,33.82 185.61,33.83 186.13,33.83 186.64,33.84 187.16,33.85 187.68,33.85 188.20,33.86 188.72,33.86 189.23,33.87 189.75,33.87 190.27,33.88 190.79,33.89 191.30,33.89 191.82,33.90 192.34,33.90 192.86,33.91 193.37,33.92 193.89,33.92 194.41,33.93 194.93,33.93 195.44,33.94 195.96,33.95 196.48,33.95 197.00,33.96 197.51,33.96 198.03,33.97 198.55,33.98 199.07,33.98 199.58,33.99 200.10,33.99 200.62,34.00 201.14,34.01 201.65,34.01 202.17,34.02 202.69,34.03 203.21,34.03 203.72,34.04 204.24,34.04 204.76,34.05 205.28,34.06 205.79,34.06 206.31,34.07 206.83,34.07 207.35,34.08 207.86,34.09 208.38,34.09 208.90,34.10 209.42,34.10 209.93,34.11 210.45,34.12 210.97,34.12 211.49,34.13 212.00,34.13 212.52,34.14 213.04,34.15 213.56,34.15 214.07,34.16 214.59,34.17 215.11,34.17 215.63,34.18 216.14,34.18 216.66,34.19 217.18,34.20 217.70,34.20 218.21,34.21 218.73,34.21 219.25,34.22 219.77,34.23 220.28,34.23 220.80,34.24 221.32,34.24 221.84,34.25 222.35,34.26 222.87,34.26 223.39,34.27 223.91,34.28 224.42,34.28 224.94,34.29 225.46,34.29 225.98,34.30 226.49,34.31 227.01,34.31 227.53,34.32 228.05,34.32 228.56,34.33 229.08,34.34 229.60,34.34" fill="none" stroke="#C8102E" stroke-width="1.6" stroke-linejoin="round"/>
<polyline points="43.60,148.60 43.86,148.60 44.12,148.60 44.38,148.60 44.63,148.60 44.89,148.60 45.15,148.59 45.41,148.59 45.67,148.59 45.93,148.59 46.18,148.58 46.44,148.58 46.70,148.57 46.96,148.57 47.22,148.56 47.48,148.55 47.73,148.53 47.99,148.51 48.25,148.49 48.51,148.46 48.77,148.42 49.02,148.37 49.28,148.31 49.54,148.23 49.80,148.14 50.06,148.02 50.32,147.87 50.58,147.69 50.83,147.47 51.09,147.21 51.35,146.89 51.61,146.51 51.87,146.07 52.12,145.56 52.38,144.97 52.64,144.30 52.90,143.56 53.16,142.75 53.42,141.88 53.68,140.94 53.93,139.95 54.19,138.91 54.45,137.83 54.71,136.73 54.97,135.60 55.23,134.46 55.48,133.30 55.74,132.14 56.00,130.98 56.26,129.82 56.52,128.66 56.77,127.50 57.03,126.36 57.29,125.22 57.55,124.09 57.81,122.98 58.07,121.87 58.33,120.78 58.58,119.70 58.84,118.63 59.10,117.58 59.36,116.54 59.62,115.51 59.88,114.50 60.13,113.50 60.39,112.51 60.65,111.54 60.91,110.58 61.17,109.63 61.42,108.70 61.68,107.78 61.94,106.87 62.20,105.97 62.46,105.09 62.72,104.22 62.98,103.36 63.23,102.52 63.49,101.68 63.75,100.86 64.01,100.05 64.27,99.26 64.53,98.47 64.78,97.70 65.04,96.93 65.30,96.18 65.56,95.44 65.82,94.71 66.08,94.00 66.33,93.29 66.59,92.59 66.85,91.91 67.11,91.23 67.37,90.57 67.62,89.91 67.88,89.27 68.14,88.63 68.40,88.01 68.66,87.39 68.92,86.79 69.17,86.19 69.43,85.60 69.69,85.02 69.95,84.45 70.21,83.89 70.47,83.34 70.72,82.80 70.98,82.27 71.24,81.74 71.50,81.22 71.76,80.71 72.02,80.21 72.28,79.72 72.53,79.23 72.79,78.76 73.05,78.29 73.31,77.82 73.57,77.37 73.83,76.92 74.08,76.48 74.34,76.04 74.60,75.62 74.86,75.20 75.38,74.37 75.89,73.58 76.41,72.81 76.93,72.06 77.45,71.33 77.96,70.63 78.48,69.94 79.00,69.28 79.52,68.64 80.03,68.02 80.55,67.41 81.07,66.82 81.59,66.25 82.10,65.69 82.62,65.15 83.14,64.62 83.66,64.11 84.17,63.60 84.69,63.12 85.21,62.64 85.73,62.17 86.24,61.72 86.76,61.27 87.28,60.84 87.80,60.42 88.31,60.00 88.83,59.60 89.35,59.20 89.87,58.82 90.38,58.44 90.90,58.07 91.42,57.71 91.94,57.35 92.45,57.01 92.97,56.67 93.49,56.34 94.01,56.01 94.52,55.70 95.04,55.39 95.56,55.09 96.08,54.80 96.59,54.51 97.11,54.24 97.63,53.97 98.15,53.70 98.66,53.45 99.18,53.20 99.70,52.96 100.22,52.72 100.73,52.50 101.25,52.28 101.77,52.06 102.29,51.86 102.80,51.66 103.32,51.46 103.84,51.28 104.36,51.10 104.88,50.92 105.39,50.75 105.91,50.59 106.43,50.43 106.95,50.28 107.46,50.14 107.98,50.00 108.50,49.86 109.02,49.73 109.53,49.61 110.05,49.49 110.57,49.37 111.09,49.26 111.60,49.15 112.12,49.04 112.64,48.94 113.16,48.85 113.67,48.75 114.19,48.66 114.71,48.58 115.23,48.49 115.74,48.41 116.26,48.34 116.78,48.26 117.30,48.19 117.81,48.12 118.33,48.05 118.85,47.99 119.37,47.93 119.88,47.87 120.40,47.81 120.92,47.75 121.44,47.70 121.95,47.64 122.47,47.59 122.99,47.54 123.51,47.50 124.02,47.45 124.54,47.41 125.06,47.36 125.58,47.32 126.09,47.28 126.61,47.24 127.13,47.20 127.65,47.17 128.16,47.13 128.68,47.10 129.20,47.06 129.72,47.03 130.23,47.00 130.75,46.97 131.27,46.94 131.79,46.91 132.30,46.89 132.82,46.86 133.34,46.83 133.86,46.81 134.37,46.78 134.89,46.76 135.41,46.74 135.93,46.71 136.44,46.69 136.96,46.67 137.48,46.65 138.00,46.63 138.51,46.61 139.03,46.60 139.55,46.58 140.07,46.56 140.58,46.54 141.10,46.53 141.62,46.51 142.14,46.50 142.65,46.48 143.17,46.47 143.69,46.45 144.21,46.44 144.72,46.43 145.24,46.41 145.76,46.40 146.28,46.39 146.80,46.38 147.31,46.36 147.83,46.35 148.35,46.34 148.87,46.33 149.38,46.32 149.90,46.31 150.42,46.30 150.94,46.29 151.45,46.28 151.97,46.28 152.49,46.27 153.01,46.26 153.52,46.25 154.04,46.24 154.56,46.23 155.08,46.23 155.59,46.22 156.11,46.21 156.63,46.21 157.15,46.20 157.66,46.19 158.18,46.19 158.70,46.18 159.22,46.17 159.73,46.17 160.25,46.16 160.77,46.16 161.29,46.15 161.80,46.15 162.32,46.14 162.84,46.14 163.36,46.13 163.87,46.13 164.39,46.12 164.91,46.12 165.43,46.11 165.94,46.11 166.46,46.10 166.98,46.10 167.50,46.10 168.01,46.09 168.53,46.09 169.05,46.08 169.57,46.08 170.08,46.08 170.60,46.07 171.12,46.07 171.64,46.07 172.15,46.06 172.67,46.06 173.19,46.06 173.71,46.05 174.22,46.05 174.74,46.05 175.26,46.04 175.78,46.04 176.29,46.04 176.81,46.03 177.33,46.03 177.85,46.03 178.36,46.03 178.88,46.02 179.40,46.02 179.92,46.02 180.43,46.02 180.95,46.01 181.47,46.01 181.99,46.01 182.50,46.01 183.02,46.00 183.54,46.00 184.06,46.00 184.57,46.00 185.09,45.99 185.61,45.99 186.13,45.99 186.64,45.99 187.16,45.99 187.68,45.98 188.20,45.98 188.72,45.98 189.23,45.98 189.75,45.98 190.27,45.97 190.79,45.97 191.30,45.97 191.82,45.97 192.34,45.97 192.86,45.96 193.37,45.96 193.89,45.96 194.41,45.96 194.93,45.96 195.44,45.96 195.96,45.95 196.48,45.95 197.00,45.95 197.51,45.95 198.03,45.95 198.55,45.94 199.07,45.94 199.58,45.94 200.10,45.94 200.62,45.94 201.14,45.94 201.65,45.93 202.17,45.93 202.69,45.93 203.21,45.93 203.72,45.93 204.24,45.93 204.76,45.93 205.28,45.92 205.79,45.92 206.31,45.92 206.83,45.92 207.35,45.92 207.86,45.92 208.38,45.91 208.90,45.91 209.42,45.91 209.93,45.91 210.45,45.91 210.97,45.91 211.49,45.91 212.00,45.90 212.52,45.90 213.04,45.90 213.56,45.90 214.07,45.90 214.59,45.90 215.11,45.90 215.63,45.89 216.14,45.89 216.66,45.89 217.18,45.89 217.70,45.89 218.21,45.89 218.73,45.89 219.25,45.88 219.77,45.88 220.28,45.88 220.80,45.88 221.32,45.88 221.84,45.88 222.35,45.88 222.87,45.87 223.39,45.87 223.91,45.87 224.42,45.87 224.94,45.87 225.46,45.87 225.98,45.87 226.49,45.86 227.01,45.86 227.53,45.86 228.05,45.86 228.56,45.86 229.08,45.86 229.60,45.86" fill="none" stroke="#3CB44B" stroke-width="1.6" stroke-linejoin="round"/>
<polyline points="43.60,148.59 43.86,148.59 44.12,148.59 44.38,148.59 44.63,148.59 44.89,148.58 45.15,148.58 45.41,148.58 45.67,148.57 45.93,148.57 46.18,148.56 46.44,148.55 46.70,148.54 46.96,148.52 47.22,148.51 47.48,148.49 47.73,148.46 47.99,148.43 48.25,148.39 48.51,148.35 48.77,148.29 49.02,148.23 49.28,148.15 49.54,148.05 49.80,147.93 50.06,147.79 50.32,147.61 50.58,147.40 50.83,147.15 51.09,146.86 51.35,146.50 51.61,146.09 51.87,145.60 52.12,145.04 52.38,144.39 52.64,143.65 52.90,142.81 53.16,141.89 53.42,140.87 53.68,139.77 53.93,138.59 54.19,137.34 54.45,136.04 54.71,134.70 54.97,133.32 55.23,131.92 55.48,130.51 55.74,129.10 56.00,127.70 56.26,126.30 56.52,124.92 56.77,123.55 57.03,122.21 57.29,120.89 57.55,119.60 57.81,118.33 58.07,117.08 58.33,115.86 58.58,114.67 58.84,113.50 59.10,112.36 59.36,111.24 59.62,110.14 59.88,109.07 60.13,108.02 60.39,106.99 60.65,105.99 60.91,105.00 61.17,104.04 61.42,103.10 61.68,102.17 61.94,101.26 62.20,100.38 62.46,99.51 62.72,98.65 62.98,97.82 63.23,97.00 63.49,96.20 63.75,95.41 64.01,94.64 64.27,93.88 64.53,93.14 64.78,92.41 65.04,91.69 65.30,90.99 65.56,90.31 65.82,89.63 66.08,88.97 66.33,88.32 66.59,87.68 66.85,87.06 67.11,86.44 67.37,85.84 67.62,85.25 67.88,84.67 68.14,84.10 68.40,83.54 68.66,82.99 68.92,82.45 69.17,81.92 69.43,81.40 69.69,80.89 69.95,80.39 70.21,79.89 70.47,79.41 70.72,78.94 70.98,78.47 71.24,78.01 71.50,77.56 71.76,77.12 72.02,76.69 72.28,76.26 72.53,75.84 72.79,75.43 73.05,75.03 73.31,74.63 73.57,74.24 73.83,73.86 74.08,73.48 74.34,73.11 74.60,72.75 74.86,72.39 75.38,71.70 75.89,71.02 76.41,70.38 76.93,69.75 77.45,69.15 77.96,68.56 78.48,68.00 79.00,67.45 79.52,66.93 80.03,66.42 80.55,65.92 81.07,65.45 81.59,64.98 82.10,64.54 82.62,64.10 83.14,63.68 83.66,63.28 84.17,62.88 84.69,62.50 85.21,62.12 85.73,61.76 86.24,61.41 86.76,61.06 87.28,60.73 87.80,60.40 88.31,60.08 88.83,59.77 89.35,59.46 89.87,59.17 90.38,58.88 90.90,58.59 91.42,58.31 91.94,58.04 92.45,57.77 92.97,57.51 93.49,57.26 94.01,57.01 94.52,56.76 95.04,56.52 95.56,56.28 96.08,56.05 96.59,55.82 97.11,55.60 97.63,55.38 98.15,55.17 98.66,54.96 99.18,54.76 99.70,54.56 100.22,54.36 100.73,54.17 101.25,53.99 101.77,53.81 102.29,53.63 102.80,53.46 103.32,53.29 103.84,53.13 104.36,52.97 104.88,52.82 105.39,52.67 105.91,52.53 106.43,52.39 106.95,52.25 107.46,52.12 107.98,51.99 108.50,51.87 109.02,51.75 109.53,51.63 110.05,51.52 110.57,51.41 111.09,51.31 111.60,51.21 112.12,51.11 112.64,51.02 113.16,50.93 113.67,50.84 114.19,50.76 114.71,50.68 115.23,50.60 115.74,50.52 116.26,50.45 116.78,50.38 117.30,50.31 117.81,50.25 118.33,50.19 118.85,50.13 119.37,50.07 119.88,50.01 120.40,49.96 120.92,49.91 121.44,49.86 121.95,49.81 122.47,49.76 122.99,49.71 123.51,49.67 124.02,49.63 124.54,49.59 125.06,49.55 125.58,49.51 126.09,49.47 126.61,49.44 127.13,49.40 127.65,49.37 128.16,49.34 128.68,49.31 129.20,49.28 129.72,49.25 130.23,49.22 130.75,49.19 131.27,49.17 131.79,49.14 132.30,49.12 132.82,49.10 133.34,49.07 133.86,49.05 134.37,49.03 134.89,49.01 135.41,48.99 135.93,48.97 136.44,48.95 136.96,48.94 137.48,48.92 138.00,48.90 138.51,48.89 139.03,48.87 139.55,48.86 140.07,48.85 140.58,48.83 141.10,48.82 141.62,48.81 142.14,48.80 142.65,48.78 143.17,48.77 143.69,48.76 144.21,48.75 144.72,48.74 145.24,48.74 145.76,48.73 146.28,48.72 146.80,48.71 147.31,48.70 147.83,48.70 148.35,48.69 148.87,48.69 149.38,48.68 149.90,48.67 150.42,48.67 150.94,48.66 151.45,48.66 151.97,48.66 152.49,48.65 153.01,48.65 153.52,48.65 154.04,48.64 154.56,48.64 155.08,48.64 155.59,48.64 156.11,48.63 156.63,48.63 157.15,48.63 157.66,48.63 158.18,48.63 158.70,48.63 159.22,48.63 159.73,48.63 160.25,48.63 160.77,48.63 161.29,48.63 161.80,48.63 162.32,48.63 162.84,48.63 163.36,48.63 163.87,48.63 164.39,48.63 164.91,48.63 165.43,48.64 165.94,48.64 166.46,48.64 166.98,48.64 167.50,48.64 168.01,48.65 168.53,48.65 169.05,48.65 169.57,48.65 170.08,48.66 170.60,48.66 171.12,48.66 171.64,48.67 172.15,48.67 172.67,48.67 173.19,48.68 173.71,48.68 174.22,48.68 174.74,48.69 175.26,48.69 175.78,48.70 176.29,48.70 176.81,48.71 177.33,48.71 177.85,48.71 178.36,48.72 178.88,48.72 179.40,48.73 179.92,48.73 180.43,48.74 180.95,48.74 181.47,48.75 181.99,48.75 182.50,48.76 183.02,48.76 183.54,48.77 184.06,48.77 184.57,48.78 185.09,48.79 185.61,48.79 186.13,48.80 186.64,48.80 187.16,48.81 187.68,48.81 188.20,48.82 188.72,48.83 189.23,48.83 189.75,48.84 190.27,48.84 190.79,48.85 191.30,48.86 191.82,48.86 192.34,48.87 192.86,48.87 193.37,48.88 193.89,48.89 194.41,48.89 194.93,48.90 195.44,48.91 195.96,48.91 196.48,48.92 197.00,48.93 197.51,48.93 198.03,48.94 198.55,48.95 199.07,48.95 199.58,48.96 200.10,48.97 200.62,48.97 201.14,48.98 201.65,48.99 202.17,48.99 202.69,49.00 203.21,49.01 203.72,49.01 204.24,49.02 204.76,49.03 205.28,49.03 205.79,49.04 206.31,49.05 206.83,49.06 207.35,49.06 207.86,49.07 208.38,49.08 208.90,49.08 209.42,49.09 209.93,49.10 210.45,49.11 210.97,49.11 211.49,49.12 212.00,49.13 212.52,49.14 213.04,49.14 213.56,49.15 214.07,49.16 214.59,49.16 215.11,49.17 215.63,49.18 216.14,49.19 216.66,49.19 217.18,49.20 217.70,49.21 218.21,49.22 218.73,49.22 219.25,49.23 219.77,49.24 220.28,49.25 220.80,49.25 221.32,49.26 221.84,49.27 222.35,49.28 222.87,49.28 223.39,49.29 223.91,49.30 224.42,49.31 224.94,49.31 225.46,49.32 225.98,49.33 226.49,49.34 227.01,49.34 227.53,49.35 228.05,49.36 228.56,49.37 229.08,49.37 229.60,49.38" fill="none" stroke="#FF8F00" stroke-width="1.6" stroke-linejoin="round"/>
<polyline points="43.60,148.60 43.86,148.60 44.12,148.60 44.38,148.60 44.63,148.60 44.89,148.60 45.15,148.60 45.41,148.60 45.67,148.60 45.93,148.60 46.18,148.60 46.44,148.60 46.70,148.59 46.96,148.59 47.22,148.59 47.48,148.59 47.73,148.58 47.99,148.58 48.25,148.57 48.51,148.57 48.77,148.56 49.02,148.54 49.28,148.53 49.54,148.51 49.80,148.49 50.06,148.45 50.32,148.41 50.58,148.37 50.83,148.30 51.09,148.22 51.35,148.13 51.61,148.01 51.87,147.86 52.12,147.67 52.38,147.45 52.64,147.18 52.90,146.86 53.16,146.49 53.42,146.05 53.68,145.54 53.93,144.98 54.19,144.34 54.45,143.65 54.71,142.89 54.97,142.08 55.23,141.22 55.48,140.33 55.74,139.40 56.00,138.44 56.26,137.46 56.52,136.46 56.77,135.46 57.03,134.45 57.29,133.44 57.55,132.42 57.81,131.41 58.07,130.41 58.33,129.41 58.58,128.41 58.84,127.43 59.10,126.46 59.36,125.49 59.62,124.54 59.88,123.60 60.13,122.66 60.39,121.75 60.65,120.84 60.91,119.94 61.17,119.06 61.42,118.18 61.68,117.32 61.94,116.47 62.20,115.64 62.46,114.81 62.72,114.00 62.98,113.20 63.23,112.41 63.49,111.63 63.75,110.86 64.01,110.10 64.27,109.36 64.53,108.62 64.78,107.90 65.04,107.19 65.30,106.49 65.56,105.80 65.82,105.12 66.08,104.45 66.33,103.79 66.59,103.14 66.85,102.50 67.11,101.87 67.37,101.25 67.62,100.65 67.88,100.05 68.14,99.46 68.40,98.87 68.66,98.30 68.92,97.74 69.17,97.19 69.43,96.64 69.69,96.11 69.95,95.58 70.21,95.06 70.47,94.55 70.72,94.05 70.98,93.56 71.24,93.08 71.50,92.60 71.76,92.13 72.02,91.67 72.28,91.22 72.53,90.77 72.79,90.33 73.05,89.90 73.31,89.48 73.57,89.06 73.83,88.65 74.08,88.25 74.34,87.85 74.60,87.47 74.86,87.08 75.38,86.34 75.89,85.62 76.41,84.92 76.93,84.25 77.45,83.61 77.96,82.98 78.48,82.38 79.00,81.80 79.52,81.23 80.03,80.69 80.55,80.17 81.07,79.66 81.59,79.18 82.10,78.70 82.62,78.25 83.14,77.81 83.66,77.39 84.17,76.98 84.69,76.58 85.21,76.20 85.73,75.82 86.24,75.47 86.76,75.12 87.28,74.78 87.80,74.45 88.31,74.14 88.83,73.83 89.35,73.53 89.87,73.24 90.38,72.96 90.90,72.68 91.42,72.42 91.94,72.16 92.45,71.90 92.97,71.66 93.49,71.41 94.01,71.18 94.52,70.95 95.04,70.72 95.56,70.51 96.08,70.29 96.59,70.08 97.11,69.88 97.63,69.67 98.15,69.48 98.66,69.29 99.18,69.10 99.70,68.91 100.22,68.73 100.73,68.56 101.25,68.39 101.77,68.22 102.29,68.05 102.80,67.89 103.32,67.74 103.84,67.59 104.36,67.44 104.88,67.29 105.39,67.15 105.91,67.01 106.43,66.88 106.95,66.75 107.46,66.62 107.98,66.50 108.50,66.38 109.02,66.26 109.53,66.15 110.05,66.04 110.57,65.94 111.09,65.84 111.60,65.74 112.12,65.64 112.64,65.55 113.16,65.46 113.67,65.38 114.19,65.30 114.71,65.22 115.23,65.14 115.74,65.07 116.26,64.99 116.78,64.93 117.30,64.86 117.81,64.80 118.33,64.74 118.85,64.68 119.37,64.62 119.88,64.57 120.40,64.51 120.92,64.46 121.44,64.41 121.95,64.37 122.47,64.32 122.99,64.28 123.51,64.24 124.02,64.20 124.54,64.16 125.06,64.12 125.58,64.08 126.09,64.05 126.61,64.01 127.13,63.98 127.65,63.95 128.16,63.92 128.68,63.89 129.20,63.86 129.72,63.83 130.23,63.81 130.75,63.78 131.27,63.75 131.79,63.73 132.30,63.71 132.82,63.68 133.34,63.66 133.86,63.64 134.37,63.62 134.89,63.59 135.41,63.57 135.93,63.55 136.44,63.53 136.96,63.51 137.48,63.50 138.00,63.48 138.51,63.46 139.03,63.44 139.55,63.42 140.07,63.41 140.58,63.39 141.10,63.37 141.62,63.36 142.14,63.34 142.65,63.33 143.17,63.31 143.69,63.30 144.21,63.28 144.72,63.27 145.24,63.25 145.76,63.24 146.28,63.23 146.80,63.21 147.31,63.20 147.83,63.19 148.35,63.17 148.87,63.16 149.38,63.15 149.90,63.14 150.42,63.12 150.94,63.11 151.45,63.10 151.97,63.09 152.49,63.08 153.01,63.07 153.52,63.05 154.04,63.04 154.56,63.03 155.08,63.02 155.59,63.01 156.11,63.00 156.63,62.99 157.15,62.98 157.66,62.97 158.18,62.96 158.70,62.95 159.22,62.94 159.73,62.93 160.25,62.92 160.77,62.91 161.29,62.90 161.80,62.89 162.32,62.88 162.84,62.87 163.36,62.86 163.87,62.85 164.39,62.84 164.91,62.83 165.43,62.82 165.94,62.81 166.46,62.80 166.98,62.79 167.50,62.78 168.01,62.77 168.53,62.76 169.05,62.75 169.57,62.74 170.08,62.74 170.60,62.73 171.12,62.72 171.64,62.71 172.15,62.70 172.67,62.69 173.19,62.68 173.71,62.67 174.22,62.66 174.74,62.66 175.26,62.65 175.78,62.64 176.29,62.63 176.81,62.62 177.33,62.61 177.85,62.60 178.36,62.59 178.88,62.59 179.40,62.58 179.92,62.57 180.43,62.56 180.95,62.55 181.47,62.54 181.99,62.53 182.50,62.53 183.02,62.52 183.54,62.51 184.06,62.50 184.57,62.49 185.09,62.48 185.61,62.48 186.13,62.47 186.64,62.46 187.16,62.45 187.68,62.44 188.20,62.43 188.72,62.42 189.23,62.42 189.75,62.41 190.27,62.40 190.79,62.39 191.30,62.38 191.82,62.37 192.34,62.37 192.86,62.36 193.37,62.35 193.89,62.34 194.41,62.33 194.93,62.33 195.44,62.32 195.96,62.31 196.48,62.30 197.00,62.29 197.51,62.28 198.03,62.28 198.55,62.27 199.07,62.26 199.58,62.25 200.10,62.24 200.62,62.23 201.14,62.23 201.65,62.22 202.17,62.21 202.69,62.20 203.21,62.19 203.72,62.19 204.24,62.18 204.76,62.17 205.28,62.16 205.79,62.15 206.31,62.14 206.83,62.14 207.35,62.13 207.86,62.12 208.38,62.11 208.90,62.10 209.42,62.10 209.93,62.09 210.45,62.08 210.97,62.07 211.49,62.06 212.00,62.05 212.52,62.05 213.04,62.04 213.56,62.03 214.07,62.02 214.59,62.01 215.11,62.01 215.63,62.00 216.14,61.99 216.66,61.98 217.18,61.97 217.70,61.96 218.21,61.96 218.73,61.95 219.25,61.94 219.77,61.93 220.28,61.92 220.80,61.92 221.32,61.91 221.84,61.90 222.35,61.89 222.87,61.88 223.39,61.88 223.91,61.87 224.42,61.86 224.94,61.85 225.46,61.84 225.98,61.83 226.49,61.83 227.01,61.82 227.53,61.81 228.05,61.80 228.56,61.79 229.08,61.79 229.60,61.78" fill="none" stroke="#5C246E" stroke-width="1.6" stroke-linejoin="round"/>
<polyline points="43.60,148.60 43.86,148.60 44.12,148.60 44.38,148.60 44.63,148.60 44.89,148.60 45.15,148.60 45.41,148.60 45.67,148.59 45.93,148.59 46.18,148.59 46.44,148.59 46.70,148.59 46.96,148.59 47.22,148.58 47.48,148.58 47.73,148.58 47.99,148.57 48.25,148.57 48.51,148.56 48.77,148.55 49.02,148.54 49.28,148.53 49.54,148.51 49.80,148.50 50.06,148.48 50.32,148.45 50.58,148.42 50.83,148.38 51.09,148.34 51.35,148.29 51.61,148.22 51.87,148.15 52.12,148.05 52.38,147.94 52.64,147.81 52.90,147.66 53.16,147.48 53.42,147.26 53.68,147.00 53.93,146.71 54.19,146.36 54.45,145.96 54.71,145.51 54.97,145.00 55.23,144.42 55.48,143.79 55.74,143.09 56.00,142.35 56.26,141.55 56.52,140.71 56.77,139.84 57.03,138.94 57.29,138.03 57.55,137.10 57.81,136.18 58.07,135.26 58.33,134.35 58.58,133.45 58.84,132.56 59.10,131.70 59.36,130.85 59.62,130.02 59.88,129.21 60.13,128.43 60.39,127.66 60.65,126.91 60.91,126.18 61.17,125.48 61.42,124.79 61.68,124.12 61.94,123.46 62.20,122.83 62.46,122.21 62.72,121.61 62.98,121.02 63.23,120.45 63.49,119.89 63.75,119.34 64.01,118.81 64.27,118.29 64.53,117.79 64.78,117.29 65.04,116.81 65.30,116.34 65.56,115.88 65.82,115.43 66.08,114.99 66.33,114.56 66.59,114.14 66.85,113.73 67.11,113.33 67.37,112.93 67.62,112.55 67.88,112.17 68.14,111.81 68.40,111.45 68.66,111.09 68.92,110.75 69.17,110.41 69.43,110.08 69.69,109.76 69.95,109.44 70.21,109.13 70.47,108.82 70.72,108.52 70.98,108.23 71.24,107.94 71.50,107.66 71.76,107.39 72.02,107.11 72.28,106.85 72.53,106.59 72.79,106.33 73.05,106.08 73.31,105.84 73.57,105.60 73.83,105.36 74.08,105.13 74.34,104.90 74.60,104.68 74.86,104.46 75.38,104.03 75.89,103.62 76.41,103.22 76.93,102.84 77.45,102.47 77.96,102.12 78.48,101.77 79.00,101.44 79.52,101.12 80.03,100.81 80.55,100.51 81.07,100.22 81.59,99.94 82.10,99.67 82.62,99.41 83.14,99.16 83.66,98.92 84.17,98.68 84.69,98.45 85.21,98.23 85.73,98.01 86.24,97.81 86.76,97.61 87.28,97.41 87.80,97.22 88.31,97.04 88.83,96.86 89.35,96.69 89.87,96.52 90.38,96.36 90.90,96.20 91.42,96.05 91.94,95.90 92.45,95.76 92.97,95.62 93.49,95.48 94.01,95.35 94.52,95.23 95.04,95.10 95.56,94.98 96.08,94.86 96.59,94.75 97.11,94.64 97.63,94.53 98.15,94.43 98.66,94.33 99.18,94.23 99.70,94.13 100.22,94.04 100.73,93.94 101.25,93.86 101.77,93.77 102.29,93.68 102.80,93.60 103.32,93.52 103.84,93.44 104.36,93.37 104.88,93.29 105.39,93.22 105.91,93.15 106.43,93.08 106.95,93.02 107.46,92.95 107.98,92.89 108.50,92.82 109.02,92.76 109.53,92.70 110.05,92.65 110.57,92.59 111.09,92.53 111.60,92.48 112.12,92.43 112.64,92.37 113.16,92.32 113.67,92.27 114.19,92.23 114.71,92.18 115.23,92.13 115.74,92.09 116.26,92.04 116.78,92.00 117.30,91.96 117.81,91.91 118.33,91.87 118.85,91.83 119.37,91.79 119.88,91.76 120.40,91.72 120.92,91.68 121.44,91.64 121.95,91.61 122.47,91.57 122.99,91.54 123.51,91.51 124.02,91.47 124.54,91.44 125.06,91.41 125.58,91.38 126.09,91.35 126.61,91.32 127.13,91.29 127.65,91.26 128.16,91.23 128.68,91.20 129.20,91.17 129.72,91.14 130.23,91.12 130.75,91.09 131.27,91.06 131.79,91.04 132.30,91.01 132.82,90.99 133.34,90.96 133.86,90.94 134.37,90.91 134.89,90.89 135.41,90.87 135.93,90.84 136.44,90.82 136.96,90.80 137.48,90.78 138.00,90.75 138.51,90.73 139.03,90.71 139.55,90.69 140.07,90.67 140.58,90.65 141.10,90.63 141.62,90.61 142.14,90.59 142.65,90.57 143.17,90.55 143.69,90.53 144.21,90.51 144.72,90.49 145.24,90.47 145.76,90.45 146.28,90.43 146.80,90.42 147.31,90.40 147.83,90.38 148.35,90.36 148.87,90.34 149.38,90.33 149.90,90.31 150.42,90.29 150.94,90.28 151.45,90.26 151.97,90.24 152.49,90.23 153.01,90.21 153.52,90.19 154.04,90.18 154.56,90.16 155.08,90.14 155.59,90.13 156.11,90.11 156.63,90.10 157.15,90.08 157.66,90.07 158.18,90.05 158.70,90.03 159.22,90.02 159.73,90.00 160.25,89.99 160.77,89.97 161.29,89.96 161.80,89.94 162.32,89.93 162.84,89.91 163.36,89.90 163.87,89.89 164.39,89.87 164.91,89.86 165.43,89.84 165.94,89.83 166.46,89.81 166.98,89.80 167.50,89.79 168.01,89.77 168.53,89.76 169.05,89.74 169.57,89.73 170.08,89.72 170.60,89.70 171.12,89.69 171.64,89.67 172.15,89.66 172.67,89.65 173.19,89.63 173.71,89.62 174.22,89.61 174.74,89.59 175.26,89.58 175.78,89.57 176.29,89.55 176.81,89.54 177.33,89.53 177.85,89.51 178.36,89.50 178.88,89.49 179.40,89.47 179.92,89.46 180.43,89.45 180.95,89.44 181.47,89.42 181.99,89.41 182.50,89.40 183.02,89.38 183.54,89.37 184.06,89.36 184.57,89.34 185.09,89.33 185.61,89.32 186.13,89.31 186.64,89.29 187.16,89.28 187.68,89.27 188.20,89.26 188.72,89.24 189.23,89.23 189.75,89.22 190.27,89.21 190.79,89.19 191.30,89.18 191.82,89.17 192.34,89.16 192.86,89.14 193.37,89.13 193.89,89.12 194.41,89.11 194.93,89.09 195.44,89.08 195.96,89.07 196.48,89.06 197.00,89.04 197.51,89.03 198.03,89.02 198.55,89.01 199.07,88.99 199.58,88.98 200.10,88.97 200.62,88.96 201.14,88.95 201.65,88.93 202.17,88.92 202.69,88.91 203.21,88.90 203.72,88.88 204.24,88.87 204.76,88.86 205.28,88.85 205.79,88.84 206.31,88.82 206.83,88.81 207.35,88.80 207.86,88.79 208.38,88.77 208.90,88.76 209.42,88.75 209.93,88.74 210.45,88.73 210.97,88.71 211.49,88.70 212.00,88.69 212.52,88.68 213.04,88.67 213.56,88.65 214.07,88.64 214.59,88.63 215.11,88.62 215.63,88.61 216.14,88.59 216.66,88.58 217.18,88.57 217.70,88.56 218.21,88.55 218.73,88.53 219.25,88.52 219.77,88.51 220.28,88.50 220.80,88.49 221.32,88.47 221.84,88.46 222.35,88.45 222.87,88.44 223.39,88.43 223.91,88.41 224.42,88.40 224.94,88.39 225.46,88.38 225.98,88.37 226.49,88.35 227.01,88.34 227.53,88.33 228.05,88.32 228.56,88.31 229.08,88.29 229.60,88.28" fill="none" stroke="#135080" stroke-width="1.6" stroke-linejoin="round"/>
<line x1="43.7" y1="19" x2="43.7" y2="149.1" stroke="#111" stroke-width="1.2"/>
<line x1="43.2" y1="148.6" x2="239.8" y2="148.6" stroke="#111" stroke-width="1.2"/>
<line x1="40.3" y1="148.6" x2="43.7" y2="148.6" stroke="#111" stroke-width="1.2"/>
<text x="37.7" y="151.6" font-size="8.2" text-anchor="end" fill="#111" stroke="#111" stroke-width="0.18">0.0</text>
<line x1="40.3" y1="121.89999999999999" x2="43.7" y2="121.89999999999999" stroke="#111" stroke-width="1.2"/>
<text x="37.7" y="124.89999999999999" font-size="8.2" text-anchor="end" fill="#111" stroke="#111" stroke-width="0.18">0.1</text>
<line x1="40.3" y1="95.19999999999999" x2="43.7" y2="95.19999999999999" stroke="#111" stroke-width="1.2"/>
<text x="37.7" y="98.19999999999999" font-size="8.2" text-anchor="end" fill="#111" stroke="#111" stroke-width="0.18">0.2</text>
<line x1="40.3" y1="68.49999999999999" x2="43.7" y2="68.49999999999999" stroke="#111" stroke-width="1.2"/>
<text x="37.7" y="71.49999999999999" font-size="8.2" text-anchor="end" fill="#111" stroke="#111" stroke-width="0.18">0.3</text>
<line x1="40.3" y1="41.79999999999998" x2="43.7" y2="41.79999999999998" stroke="#111" stroke-width="1.2"/>
<text x="37.7" y="44.79999999999998" font-size="8.2" text-anchor="end" fill="#111" stroke="#111" stroke-width="0.18">0.4</text>
<line x1="43.6" y1="148.6" x2="43.6" y2="152.0" stroke="#111" stroke-width="1.2"/>
<text x="43.6" y="160.7" font-size="8.2" text-anchor="middle" fill="#111" stroke="#111" stroke-width="0.18">0</text>
<line x1="74.6" y1="148.6" x2="74.6" y2="152.0" stroke="#111" stroke-width="1.2"/>
<text x="74.6" y="160.7" font-size="8.2" text-anchor="middle" fill="#111" stroke="#111" stroke-width="0.18">600</text>
<line x1="105.6" y1="148.6" x2="105.6" y2="152.0" stroke="#111" stroke-width="1.2"/>
<text x="105.6" y="160.7" font-size="8.2" text-anchor="middle" fill="#111" stroke="#111" stroke-width="0.18">1200</text>
<line x1="136.6" y1="148.6" x2="136.6" y2="152.0" stroke="#111" stroke-width="1.2"/>
<text x="136.6" y="160.7" font-size="8.2" text-anchor="middle" fill="#111" stroke="#111" stroke-width="0.18">1800</text>
<line x1="167.6" y1="148.6" x2="167.6" y2="152.0" stroke="#111" stroke-width="1.2"/>
<text x="167.6" y="160.7" font-size="8.2" text-anchor="middle" fill="#111" stroke="#111" stroke-width="0.18">2400</text>
<line x1="198.6" y1="148.6" x2="198.6" y2="152.0" stroke="#111" stroke-width="1.2"/>
<text x="198.6" y="160.7" font-size="8.2" text-anchor="middle" fill="#111" stroke="#111" stroke-width="0.18">3000</text>
<line x1="229.6" y1="148.6" x2="229.6" y2="152.0" stroke="#111" stroke-width="1.2"/>
<text x="229.6" y="160.7" font-size="8.2" text-anchor="middle" fill="#111" stroke="#111" stroke-width="0.18">3600</text>
<text x="127" y="173.7" font-size="8.6" textLength="29" lengthAdjust="spacingAndGlyphs" fill="#111" stroke="#111" stroke-width="0.4">Time (sec)</text>
<text x="21.8" y="83.7" font-size="8.7" text-anchor="middle" textLength="37.6" lengthAdjust="spacingAndGlyphs" transform="rotate(-90 21.8 83.7)" fill="#111" stroke="#111" stroke-width="0.25">OD (340 nm)</text>
<line x1="151.9" y1="113.5" x2="162.70000000000002" y2="113.5" stroke="#C8102E" stroke-width="1.4"/>
<text x="165.9" y="116.1" font-size="7.2" textLength="11.2" lengthAdjust="spacingAndGlyphs" fill="#111" stroke="#111" stroke-width="0.18">WT</text>
<line x1="151.9" y1="125.8" x2="162.70000000000002" y2="125.8" stroke="#3CB44B" stroke-width="1.4"/>
<text x="165.9" y="128.4" font-size="7.2" textLength="25.9" lengthAdjust="spacingAndGlyphs" fill="#111" stroke="#111" stroke-width="0.18"><tspan font-family="Liberation Serif" font-size="6.7" fill="#333">γ</tspan>D297N</text>
<line x1="200.4" y1="113.5" x2="211.20000000000002" y2="113.5" stroke="#5C246E" stroke-width="1.4"/>
<text x="214.4" y="116.1" font-size="7.2" textLength="26.8" lengthAdjust="spacingAndGlyphs" fill="#111" stroke="#111" stroke-width="0.18"><tspan font-family="Liberation Serif" font-size="6.7" fill="#333">γ</tspan>E323Q</text>
<line x1="200.4" y1="125.8" x2="211.20000000000002" y2="125.8" stroke="#FF8F00" stroke-width="1.4"/>
<text x="214.4" y="128.4" font-size="7.2" textLength="26.8" lengthAdjust="spacingAndGlyphs" fill="#111" stroke="#111" stroke-width="0.18"><tspan font-family="Liberation Serif" font-size="6.7" fill="#333">γ</tspan>K356Q</text>
<line x1="200.4" y1="138.1" x2="211.20000000000002" y2="138.1" stroke="#135080" stroke-width="1.4"/>
<text x="214.4" y="140.7" font-size="7.2" textLength="18.1" lengthAdjust="spacingAndGlyphs" fill="#111" stroke="#111" stroke-width="0.18"><tspan font-family="Liberation Serif" font-size="6.7" fill="#333">γ</tspan>DEK</text>
<line x1="317.1" y1="18.6" x2="317.1" y2="149.1" stroke="#111" stroke-width="1.2"/>
<line x1="316.6" y1="148.6" x2="513" y2="148.6" stroke="#111" stroke-width="1.2"/>
<line x1="313.8" y1="148.4" x2="317.1" y2="148.4" stroke="#111" stroke-width="1.2"/>
<text x="310.8" y="151.3" font-size="8.2" text-anchor="end" fill="#111" stroke="#111" stroke-width="0.18">0</text>
<line x1="313.8" y1="119.4" x2="317.1" y2="119.4" stroke="#111" stroke-width="1.2"/>
<text x="310.8" y="122.30000000000001" font-size="8.2" text-anchor="end" fill="#111" stroke="#111" stroke-width="0.18">50</text>
<line x1="313.8" y1="90.4" x2="317.1" y2="90.4" stroke="#111" stroke-width="1.2"/>
<text x="310.8" y="93.30000000000001" font-size="8.2" text-anchor="end" fill="#111" stroke="#111" stroke-width="0.18">100</text>
<line x1="313.8" y1="61.400000000000006" x2="317.1" y2="61.400000000000006" stroke="#111" stroke-width="1.2"/>
<text x="310.8" y="64.30000000000001" font-size="8.2" text-anchor="end" fill="#111" stroke="#111" stroke-width="0.18">150</text>
<line x1="313.8" y1="32.400000000000006" x2="317.1" y2="32.400000000000006" stroke="#111" stroke-width="1.2"/>
<text x="310.8" y="35.300000000000004" font-size="8.2" text-anchor="end" fill="#111" stroke="#111" stroke-width="0.18">200</text>
<rect x="328.20" y="77.00" width="24.6" height="71.60" fill="#C8102E"/>
<line x1="340.5" y1="53.5" x2="340.5" y2="77" stroke="#333" stroke-width="1.1"/>
<line x1="334.2" y1="53.5" x2="346.8" y2="53.5" stroke="#333" stroke-width="1.2"/>
<line x1="340.5" y1="148.6" x2="340.5" y2="151.9" stroke="#111" stroke-width="1.2"/>
<text x="340.5" y="160.9" font-size="8.2" text-anchor="middle" textLength="12.4" lengthAdjust="spacingAndGlyphs" fill="#111" stroke="#111" stroke-width="0.18">WT</text>
<rect x="365.70" y="72.20" width="24.6" height="76.40" fill="#135080"/>
<line x1="378" y1="65.1" x2="378" y2="72.2" stroke="#333" stroke-width="1.1"/>
<line x1="371.7" y1="65.1" x2="384.3" y2="65.1" stroke="#333" stroke-width="1.2"/>
<line x1="378" y1="148.6" x2="378" y2="151.9" stroke="#111" stroke-width="1.2"/>
<text x="378" y="160.9" font-size="8.2" text-anchor="middle" textLength="19.8" lengthAdjust="spacingAndGlyphs" fill="#111" stroke="#111" stroke-width="0.18"><tspan font-family="Liberation Serif" font-size="7.6" fill="#333">γ</tspan>DEK</text>
<rect x="403.20" y="65.90" width="24.6" height="82.70" fill="#3CB44B"/>
<line x1="415.5" y1="42.9" x2="415.5" y2="65.9" stroke="#333" stroke-width="1.1"/>
<line x1="409.2" y1="42.9" x2="421.8" y2="42.9" stroke="#333" stroke-width="1.2"/>
<line x1="415.5" y1="148.6" x2="415.5" y2="151.9" stroke="#111" stroke-width="1.2"/>
<text x="415.5" y="160.9" font-size="8.2" text-anchor="middle" textLength="28.2" lengthAdjust="spacingAndGlyphs" fill="#111" stroke="#111" stroke-width="0.18"><tspan font-family="Liberation Serif" font-size="7.6" fill="#333">γ</tspan>D297N</text>
<rect x="440.70" y="50.90" width="24.6" height="97.70" fill="#5C246E"/>
<line x1="453" y1="25.5" x2="453" y2="50.9" stroke="#333" stroke-width="1.1"/>
<line x1="446.7" y1="25.5" x2="459.3" y2="25.5" stroke="#333" stroke-width="1.2"/>
<line x1="453" y1="148.6" x2="453" y2="151.9" stroke="#111" stroke-width="1.2"/>
<text x="453" y="160.9" font-size="8.2" text-anchor="middle" textLength="28.4" lengthAdjust="spacingAndGlyphs" fill="#111" stroke="#111" stroke-width="0.18"><tspan font-family="Liberation Serif" font-size="7.6" fill="#333">γ</tspan>E323Q</text>
<rect x="478.20" y="67.00" width="24.6" height="81.60" fill="#FF8F00"/>
<line x1="490.5" y1="45" x2="490.5" y2="67" stroke="#333" stroke-width="1.1"/>
<line x1="484.2" y1="45" x2="496.8" y2="45" stroke="#333" stroke-width="1.2"/>
<line x1="490.5" y1="148.6" x2="490.5" y2="151.9" stroke="#111" stroke-width="1.2"/>
<text x="490.5" y="160.9" font-size="8.2" text-anchor="middle" textLength="28.7" lengthAdjust="spacingAndGlyphs" fill="#111" stroke="#111" stroke-width="0.18"><tspan font-family="Liberation Serif" font-size="7.6" fill="#333">γ</tspan>K356Q</text>
<text x="291.5" y="84.5" font-size="8.7" text-anchor="middle" textLength="46.3" lengthAdjust="spacingAndGlyphs" transform="rotate(-90 291.5 84.5)" fill="#111" stroke="#111" stroke-width="0.25">Lag phase (sec)</text>
<line x1="43.7" y1="204.1" x2="43.7" y2="334.4" stroke="#111" stroke-width="1.2"/>
<line x1="43.2" y1="333.9" x2="239.8" y2="333.9" stroke="#111" stroke-width="1.2"/>
<line x1="40.400000000000006" y1="333.9" x2="43.7" y2="333.9" stroke="#111" stroke-width="1.2"/>
<text x="37.400000000000006" y="336.79999999999995" font-size="8.2" text-anchor="end" fill="#111" stroke="#111" stroke-width="0.18">0.00</text>
<line x1="40.400000000000006" y1="312.0" x2="43.7" y2="312.0" stroke="#111" stroke-width="1.2"/>
<text x="37.400000000000006" y="314.9" font-size="8.2" text-anchor="end" fill="#111" stroke="#111" stroke-width="0.18">0.02</text>
<line x1="40.400000000000006" y1="290.09999999999997" x2="43.7" y2="290.09999999999997" stroke="#111" stroke-width="1.2"/>
<text x="37.400000000000006" y="292.99999999999994" font-size="8.2" text-anchor="end" fill="#111" stroke="#111" stroke-width="0.18">0.04</text>
<line x1="40.400000000000006" y1="268.2" x2="43.7" y2="268.2" stroke="#111" stroke-width="1.2"/>
<text x="37.400000000000006" y="271.09999999999997" font-size="8.2" text-anchor="end" fill="#111" stroke="#111" stroke-width="0.18">0.06</text>
<line x1="40.400000000000006" y1="246.29999999999998" x2="43.7" y2="246.29999999999998" stroke="#111" stroke-width="1.2"/>
<text x="37.400000000000006" y="249.2" font-size="8.2" text-anchor="end" fill="#111" stroke="#111" stroke-width="0.18">0.08</text>
<line x1="40.400000000000006" y1="224.39999999999998" x2="43.7" y2="224.39999999999998" stroke="#111" stroke-width="1.2"/>
<text x="37.400000000000006" y="227.29999999999998" font-size="8.2" text-anchor="end" fill="#111" stroke="#111" stroke-width="0.18">0.10</text>
<rect x="54.70" y="238.60" width="24.6" height="95.30" fill="#C8102E"/>
<line x1="67" y1="211" x2="67" y2="238.6" stroke="#333" stroke-width="1.1"/>
<line x1="60.7" y1="211" x2="73.3" y2="211" stroke="#333" stroke-width="1.2"/>
<line x1="67" y1="333.9" x2="67" y2="337.2" stroke="#111" stroke-width="1.2"/>
<text x="67" y="346.4" font-size="8.2" text-anchor="middle" textLength="12.4" lengthAdjust="spacingAndGlyphs" fill="#111" stroke="#111" stroke-width="0.18">WT</text>
<rect x="92.10" y="293.40" width="24.6" height="40.50" fill="#135080"/>
<line x1="104.4" y1="287.3" x2="104.4" y2="293.4" stroke="#333" stroke-width="1.1"/>
<line x1="98.10000000000001" y1="287.3" x2="110.7" y2="287.3" stroke="#333" stroke-width="1.2"/>
<line x1="104.4" y1="333.9" x2="104.4" y2="337.2" stroke="#111" stroke-width="1.2"/>
<text x="104.4" y="346.4" font-size="8.2" text-anchor="middle" textLength="19.8" lengthAdjust="spacingAndGlyphs" fill="#111" stroke="#111" stroke-width="0.18"><tspan font-family="Liberation Serif" font-size="7.6" fill="#333">γ</tspan>DEK</text>
<circle cx="102.65" cy="282.40" r="1.2" fill="#000"/>
<circle cx="106.15" cy="282.40" r="1.2" fill="#000"/>
<rect x="129.50" y="264.10" width="24.6" height="69.80" fill="#3CB44B"/>
<line x1="141.8" y1="246.4" x2="141.8" y2="264.1" stroke="#333" stroke-width="1.1"/>
<line x1="135.5" y1="246.4" x2="148.10000000000002" y2="246.4" stroke="#333" stroke-width="1.2"/>
<line x1="141.8" y1="333.9" x2="141.8" y2="337.2" stroke="#111" stroke-width="1.2"/>
<text x="141.8" y="346.4" font-size="8.2" text-anchor="middle" textLength="28.2" lengthAdjust="spacingAndGlyphs" fill="#111" stroke="#111" stroke-width="0.18"><tspan font-family="Liberation Serif" font-size="7.6" fill="#333">γ</tspan>D297N</text>
<rect x="167.10" y="272.70" width="24.6" height="61.20" fill="#5C246E"/>
<line x1="179.4" y1="256.2" x2="179.4" y2="272.7" stroke="#333" stroke-width="1.1"/>
<line x1="173.1" y1="256.2" x2="185.70000000000002" y2="256.2" stroke="#333" stroke-width="1.2"/>
<line x1="179.4" y1="333.9" x2="179.4" y2="337.2" stroke="#111" stroke-width="1.2"/>
<text x="179.4" y="346.4" font-size="8.2" text-anchor="middle" textLength="28.4" lengthAdjust="spacingAndGlyphs" fill="#111" stroke="#111" stroke-width="0.18"><tspan font-family="Liberation Serif" font-size="7.6" fill="#333">γ</tspan>E323Q</text>
<rect x="204.50" y="255.50" width="24.6" height="78.40" fill="#FF8F00"/>
<line x1="216.8" y1="234.5" x2="216.8" y2="255.5" stroke="#333" stroke-width="1.1"/>
<line x1="210.5" y1="234.5" x2="223.10000000000002" y2="234.5" stroke="#333" stroke-width="1.2"/>
<line x1="216.8" y1="333.9" x2="216.8" y2="337.2" stroke="#111" stroke-width="1.2"/>
<text x="216.8" y="346.4" font-size="8.2" text-anchor="middle" textLength="28.7" lengthAdjust="spacingAndGlyphs" fill="#111" stroke="#111" stroke-width="0.18"><tspan font-family="Liberation Serif" font-size="7.6" fill="#333">γ</tspan>K356Q</text>
<line x1="317.1" y1="204.1" x2="317.1" y2="334.9" stroke="#111" stroke-width="1.2"/>
<line x1="316.6" y1="334.4" x2="513.5" y2="334.4" stroke="#111" stroke-width="1.2"/>
<line x1="313.8" y1="334.4" x2="317.1" y2="334.4" stroke="#111" stroke-width="1.2"/>
<text x="310.8" y="337.29999999999995" font-size="8.2" text-anchor="end" fill="#111" stroke="#111" stroke-width="0.18">0.0</text>
<line x1="313.8" y1="310.65" x2="317.1" y2="310.65" stroke="#111" stroke-width="1.2"/>
<text x="310.8" y="313.54999999999995" font-size="8.2" text-anchor="end" fill="#111" stroke="#111" stroke-width="0.18">0.1</text>
<line x1="313.8" y1="286.9" x2="317.1" y2="286.9" stroke="#111" stroke-width="1.2"/>
<text x="310.8" y="289.79999999999995" font-size="8.2" text-anchor="end" fill="#111" stroke="#111" stroke-width="0.18">0.2</text>
<line x1="313.8" y1="263.15" x2="317.1" y2="263.15" stroke="#111" stroke-width="1.2"/>
<text x="310.8" y="266.04999999999995" font-size="8.2" text-anchor="end" fill="#111" stroke="#111" stroke-width="0.18">0.3</text>
<line x1="313.8" y1="239.39999999999998" x2="317.1" y2="239.39999999999998" stroke="#111" stroke-width="1.2"/>
<text x="310.8" y="242.29999999999998" font-size="8.2" text-anchor="end" fill="#111" stroke="#111" stroke-width="0.18">0.4</text>
<line x1="313.8" y1="215.64999999999998" x2="317.1" y2="215.64999999999998" stroke="#111" stroke-width="1.2"/>
<text x="310.8" y="218.54999999999998" font-size="8.2" text-anchor="end" fill="#111" stroke="#111" stroke-width="0.18">0.5</text>
<rect x="328.50" y="231.70" width="24.6" height="102.70" fill="#C8102E"/>
<line x1="340.8" y1="220.2" x2="340.8" y2="231.7" stroke="#333" stroke-width="1.1"/>
<line x1="334.5" y1="220.2" x2="347.1" y2="220.2" stroke="#333" stroke-width="1.2"/>
<line x1="340.8" y1="334.4" x2="340.8" y2="337.7" stroke="#111" stroke-width="1.2"/>
<text x="340.8" y="346.5" font-size="8.2" text-anchor="middle" textLength="12.4" lengthAdjust="spacingAndGlyphs" fill="#111" stroke="#111" stroke-width="0.18">WT</text>
<rect x="365.90" y="280.30" width="24.6" height="54.10" fill="#135080"/>
<line x1="378.2" y1="272.8" x2="378.2" y2="280.3" stroke="#333" stroke-width="1.1"/>
<line x1="371.9" y1="272.8" x2="384.5" y2="272.8" stroke="#333" stroke-width="1.2"/>
<line x1="378.2" y1="334.4" x2="378.2" y2="337.7" stroke="#111" stroke-width="1.2"/>
<text x="378.2" y="346.5" font-size="8.2" text-anchor="middle" textLength="19.8" lengthAdjust="spacingAndGlyphs" fill="#111" stroke="#111" stroke-width="0.18"><tspan font-family="Liberation Serif" font-size="7.6" fill="#333">γ</tspan>DEK</text>
<circle cx="372.95" cy="268.20" r="1.2" fill="#000"/>
<circle cx="376.45" cy="268.20" r="1.2" fill="#000"/>
<circle cx="379.95" cy="268.20" r="1.2" fill="#000"/>
<circle cx="383.45" cy="268.20" r="1.2" fill="#000"/>
<rect x="403.20" y="242.60" width="24.6" height="91.80" fill="#3CB44B"/>
<line x1="415.5" y1="235" x2="415.5" y2="242.6" stroke="#333" stroke-width="1.1"/>
<line x1="409.2" y1="235" x2="421.8" y2="235" stroke="#333" stroke-width="1.2"/>
<line x1="415.5" y1="334.4" x2="415.5" y2="337.7" stroke="#111" stroke-width="1.2"/>
<text x="415.5" y="346.5" font-size="8.2" text-anchor="middle" textLength="28.2" lengthAdjust="spacingAndGlyphs" fill="#111" stroke="#111" stroke-width="0.18"><tspan font-family="Liberation Serif" font-size="7.6" fill="#333">γ</tspan>D297N</text>
<rect x="440.50" y="256.90" width="24.6" height="77.50" fill="#5C246E"/>
<line x1="452.8" y1="250.2" x2="452.8" y2="256.9" stroke="#333" stroke-width="1.1"/>
<line x1="446.5" y1="250.2" x2="459.1" y2="250.2" stroke="#333" stroke-width="1.2"/>
<line x1="452.8" y1="334.4" x2="452.8" y2="337.7" stroke="#111" stroke-width="1.2"/>
<text x="452.8" y="346.5" font-size="8.2" text-anchor="middle" textLength="28.4" lengthAdjust="spacingAndGlyphs" fill="#111" stroke="#111" stroke-width="0.18"><tspan font-family="Liberation Serif" font-size="7.6" fill="#333">γ</tspan>E323Q</text>
<circle cx="449.30" cy="245.30" r="1.2" fill="#000"/>
<circle cx="452.80" cy="245.30" r="1.2" fill="#000"/>
<circle cx="456.30" cy="245.30" r="1.2" fill="#000"/>
<rect x="478.10" y="245.20" width="24.6" height="89.20" fill="#FF8F00"/>
<line x1="490.4" y1="238.2" x2="490.4" y2="245.2" stroke="#333" stroke-width="1.1"/>
<line x1="484.09999999999997" y1="238.2" x2="496.7" y2="238.2" stroke="#333" stroke-width="1.2"/>
<line x1="490.4" y1="334.4" x2="490.4" y2="337.7" stroke="#111" stroke-width="1.2"/>
<text x="490.4" y="346.5" font-size="8.2" text-anchor="middle" textLength="28.7" lengthAdjust="spacingAndGlyphs" fill="#111" stroke="#111" stroke-width="0.18"><tspan font-family="Liberation Serif" font-size="7.6" fill="#333">γ</tspan>K356Q</text>
<text x="292.7" y="269.0" font-size="8.7" text-anchor="middle" textLength="59" lengthAdjust="spacingAndGlyphs" transform="rotate(-90 292.7 269.0)" fill="#111" stroke="#111" stroke-width="0.25">MaxOD (λ=340 nm)</text>
<text x="15.5" y="270.2" font-size="8.7" text-anchor="middle" transform="rotate(-90 15.5 270.2)" fill="#111" stroke="#111" stroke-width="0.25" textLength="49.5" lengthAdjust="spacingAndGlyphs"><tspan font-style="italic">V</tspan><tspan font-size="5.8" dy="1.6">max</tspan><tspan dy="-1.6"> (ΔAbs/min)</tspan></text>
<text x="7.3" y="15.3" font-size="10.6" font-weight="bold" fill="#000" stroke="#000" stroke-width="0.35">A</text>
<text x="284.7" y="15.3" font-size="10.6" font-weight="bold" fill="#000" stroke="#000" stroke-width="0.35">B</text>
<text x="7.4" y="200.2" font-size="10.6" font-weight="bold" fill="#000" stroke="#000" stroke-width="0.35">C</text>
<text x="284.5" y="200.2" font-size="10.6" font-weight="bold" fill="#000" stroke="#000" stroke-width="0.35">D</text>
<rect x="0.5" y="0.5" width="519" height="353" fill="none" stroke="#000" stroke-width="1.2"/>
</svg>
</body></html>
